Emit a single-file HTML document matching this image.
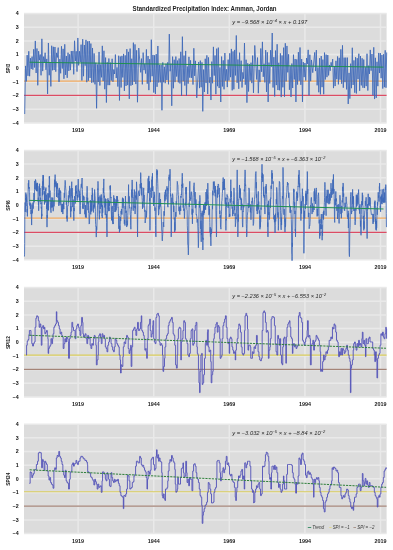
<!DOCTYPE html><html><head><meta charset="utf-8"><style>html,body{margin:0;padding:0;background:#fff;overflow:hidden}svg{display:block;will-change:transform}</style></head><body><svg width="393" height="550" viewBox="0 0 393 550" font-family="Liberation Sans, sans-serif">
<rect width="393" height="550" fill="#fff"/>
<text x="204.6" y="10.7" font-size="6.3" font-weight="bold" text-anchor="middle" textLength="144" lengthAdjust="spacingAndGlyphs" fill="#222">Standardized Precipitation Index: Amman, Jordan</text>
<g>
<rect x="24.0" y="13.40" width="362.60" height="109.40" fill="#dcdcdc"/>
<line x1="24.0" x2="386.6" y1="122.95" y2="122.95" stroke="#e9e9e9" stroke-width="1.5"/>
<text x="18.6" y="124.70" font-size="5.3" font-weight="bold" text-anchor="end" fill="#111">−4</text>
<line x1="24.0" x2="386.6" y1="109.28" y2="109.28" stroke="#e9e9e9" stroke-width="1.5"/>
<text x="18.6" y="111.03" font-size="5.3" font-weight="bold" text-anchor="end" fill="#111">−3</text>
<line x1="24.0" x2="386.6" y1="95.60" y2="95.60" stroke="#e9e9e9" stroke-width="1.5"/>
<text x="18.6" y="97.35" font-size="5.3" font-weight="bold" text-anchor="end" fill="#111">−2</text>
<line x1="24.0" x2="386.6" y1="81.93" y2="81.93" stroke="#e9e9e9" stroke-width="1.5"/>
<text x="18.6" y="83.68" font-size="5.3" font-weight="bold" text-anchor="end" fill="#111">−1</text>
<line x1="24.0" x2="386.6" y1="68.25" y2="68.25" stroke="#e9e9e9" stroke-width="1.5"/>
<text x="18.6" y="70.00" font-size="5.3" font-weight="bold" text-anchor="end" fill="#111">0</text>
<line x1="24.0" x2="386.6" y1="54.58" y2="54.58" stroke="#e9e9e9" stroke-width="1.5"/>
<text x="18.6" y="56.33" font-size="5.3" font-weight="bold" text-anchor="end" fill="#111">1</text>
<line x1="24.0" x2="386.6" y1="40.90" y2="40.90" stroke="#e9e9e9" stroke-width="1.5"/>
<text x="18.6" y="42.65" font-size="5.3" font-weight="bold" text-anchor="end" fill="#111">2</text>
<line x1="24.0" x2="386.6" y1="27.23" y2="27.23" stroke="#e9e9e9" stroke-width="1.5"/>
<text x="18.6" y="28.98" font-size="5.3" font-weight="bold" text-anchor="end" fill="#111">3</text>
<line x1="24.0" x2="386.6" y1="13.55" y2="13.55" stroke="#e9e9e9" stroke-width="1.5"/>
<text x="18.6" y="15.30" font-size="5.3" font-weight="bold" text-anchor="end" fill="#111">4</text>
<line x1="78.10" x2="78.10" y1="13.40" y2="122.80" stroke="#e9e9e9" stroke-width="1.5"/>
<text x="78.10" y="132.40" font-size="5.4" font-weight="bold" text-anchor="middle" fill="#222">1919</text>
<line x1="153.70" x2="153.70" y1="13.40" y2="122.80" stroke="#e9e9e9" stroke-width="1.5"/>
<text x="153.70" y="132.40" font-size="5.4" font-weight="bold" text-anchor="middle" fill="#222">1944</text>
<line x1="229.30" x2="229.30" y1="13.40" y2="122.80" stroke="#e9e9e9" stroke-width="1.5"/>
<text x="229.30" y="132.40" font-size="5.4" font-weight="bold" text-anchor="middle" fill="#222">1969</text>
<line x1="304.90" x2="304.90" y1="13.40" y2="122.80" stroke="#e9e9e9" stroke-width="1.5"/>
<text x="304.90" y="132.40" font-size="5.4" font-weight="bold" text-anchor="middle" fill="#222">1994</text>
<line x1="380.50" x2="380.50" y1="13.40" y2="122.80" stroke="#e9e9e9" stroke-width="1.5"/>
<text x="380.50" y="132.40" font-size="5.4" font-weight="bold" text-anchor="middle" fill="#222">2019</text>
<text transform="translate(9.8,68.60) rotate(-90)" font-size="5.6" font-weight="bold" text-anchor="middle" textLength="9.5" lengthAdjust="spacingAndGlyphs" fill="#222">SPI3</text>
<line x1="24.0" x2="386.6" y1="81.18" y2="81.18" stroke="#f0aa60" stroke-width="1.2"/>
<line x1="24.0" x2="386.6" y1="95.45" y2="95.45" stroke="#dc4c64" stroke-width="1.2"/>
<path d="M24.70,114.02 L25.51,65.92 L26.33,81.45 L27.15,55.11 L27.97,75.82 L28.78,51.27 L29.60,76.19 L30.42,58.17 L31.24,69.01 L32.05,56.64 L32.87,69.63 L33.69,49.27 L34.51,67.48 L35.32,40.93 L36.14,72.98 L36.96,48.51 L37.78,85.30 L38.59,51.21 L39.41,60.13 L40.23,54.50 L41.05,75.32 L41.86,38.84 L42.68,71.09 L43.50,56.67 L44.32,62.71 L45.13,52.75 L45.95,69.77 L46.77,58.90 L47.59,93.93 L48.40,42.99 L49.22,75.24 L50.04,62.94 L50.86,86.40 L51.67,45.76 L52.49,70.25 L53.31,46.79 L54.13,69.97 L54.94,46.99 L55.76,71.66 L56.58,52.85 L57.40,57.45 L58.21,47.64 L59.03,81.95 L59.85,59.13 L60.66,73.30 L61.48,46.26 L62.30,68.58 L63.12,48.85 L63.93,78.81 L64.75,44.32 L65.57,74.87 L66.39,56.03 L67.20,77.83 L68.02,52.68 L68.84,70.91 L69.66,54.28 L70.47,70.12 L71.29,51.05 L72.11,63.64 L72.93,50.97 L73.74,74.34 L74.56,40.77 L75.38,61.05 L76.20,51.25 L77.01,71.64 L77.83,37.96 L78.65,65.36 L79.47,51.23 L80.28,61.95 L81.09,44.66 L81.88,80.48 L82.70,39.18 L83.51,76.20 L84.33,44.98 L85.15,65.63 L85.97,39.89 L86.78,82.20 L87.60,41.42 L88.42,80.73 L89.24,41.02 L90.05,77.95 L90.87,43.57 L91.69,82.76 L92.51,47.98 L93.32,82.36 L94.14,53.44 L94.96,84.34 L95.78,62.72 L96.59,108.31 L97.41,64.46 L98.23,81.98 L99.05,51.94 L99.86,85.51 L100.68,64.44 L101.50,77.32 L102.32,45.87 L103.13,81.14 L103.95,50.77 L104.77,89.19 L105.59,57.60 L106.40,102.56 L107.22,62.32 L108.04,85.15 L108.86,58.50 L109.67,85.13 L110.49,62.65 L111.31,80.52 L112.13,58.79 L112.94,81.79 L113.76,69.55 L114.58,73.99 L115.40,54.58 L116.21,78.05 L117.03,67.44 L117.85,86.56 L118.66,55.76 L119.48,100.47 L120.30,56.52 L121.12,87.53 L121.93,55.89 L122.75,77.41 L123.57,53.91 L124.39,90.88 L125.20,55.41 L126.02,85.93 L126.84,49.15 L127.66,85.10 L128.47,51.88 L129.29,98.85 L130.11,48.57 L130.93,85.63 L131.74,58.72 L132.56,84.92 L133.38,42.66 L134.20,81.71 L135.01,44.39 L135.83,84.08 L136.65,50.30 L137.47,102.22 L138.76,48.02 L140.70,72.37 L141.51,58.64 L142.33,84.37 L143.15,52.60 L143.97,70.11 L144.78,64.00 L145.60,73.53 L146.42,49.41 L147.24,83.67 L148.05,56.02 L148.87,90.14 L149.69,59.16 L150.51,82.13 L151.32,39.68 L152.14,76.20 L152.96,54.94 L153.78,92.54 L154.59,55.32 L155.41,93.88 L156.23,54.14 L157.05,86.80 L157.86,45.99 L158.68,82.50 L159.50,64.93 L160.32,82.40 L161.13,64.96 L161.95,110.27 L162.77,62.45 L163.59,82.26 L164.40,66.82 L165.22,83.19 L166.04,63.75 L166.86,80.04 L167.67,62.39 L168.49,84.30 L169.31,34.08 L170.13,71.24 L170.94,63.73 L171.76,105.80 L172.58,56.62 L173.40,88.28 L174.21,59.73 L175.03,82.18 L175.85,56.58 L176.66,76.54 L177.48,60.59 L178.30,82.39 L179.12,58.50 L179.93,83.44 L180.75,51.80 L181.57,95.96 L182.39,36.67 L183.20,81.27 L184.02,55.62 L184.84,85.53 L185.66,50.93 L186.47,95.57 L187.29,66.47 L188.11,83.63 L188.93,56.84 L189.74,77.63 L190.56,60.33 L191.38,77.95 L192.20,64.08 L193.01,84.57 L193.83,48.25 L194.65,75.89 L195.47,60.89 L196.76,97.87 L198.70,61.98 L199.51,88.12 L200.33,60.64 L201.15,87.19 L201.97,62.39 L202.78,111.35 L203.60,69.60 L204.42,92.01 L205.24,58.78 L206.05,83.02 L206.87,55.39 L207.69,93.99 L208.51,57.43 L209.32,82.79 L210.14,77.17 L210.96,100.02 L211.78,61.63 L212.59,83.26 L213.41,46.87 L214.23,75.59 L215.05,55.50 L215.86,94.17 L216.68,48.68 L217.50,86.20 L218.32,47.64 L219.13,87.98 L219.95,67.45 L220.77,102.01 L221.59,56.57 L222.40,86.51 L223.22,60.39 L224.04,89.33 L224.86,53.04 L225.67,80.71 L226.49,69.37 L227.31,87.08 L228.13,59.65 L228.94,80.54 L229.76,53.27 L230.58,77.16 L231.40,48.93 L232.21,90.35 L233.03,51.43 L233.85,89.28 L234.66,49.91 L235.48,75.45 L236.30,35.47 L237.12,82.84 L237.93,59.51 L238.75,88.80 L239.57,52.66 L240.39,81.33 L241.20,60.66 L242.02,87.50 L242.84,72.36 L243.66,78.76 L244.47,43.02 L245.29,84.68 L246.11,59.71 L246.93,102.65 L247.74,63.24 L248.56,91.53 L249.38,63.99 L250.20,80.50 L251.01,62.68 L251.83,83.14 L252.65,55.59 L253.47,92.90 L254.76,45.47 L256.70,79.45 L257.51,57.58 L258.33,93.19 L259.15,69.93 L259.97,82.13 L260.78,48.51 L261.60,71.80 L262.42,41.86 L263.24,76.80 L264.05,63.79 L264.87,82.40 L265.69,50.11 L266.51,91.95 L267.32,52.27 L268.14,101.93 L268.96,62.62 L269.78,83.45 L270.59,50.22 L271.41,66.67 L272.23,33.01 L273.05,87.50 L273.86,57.21 L274.68,96.48 L275.50,50.57 L276.32,85.10 L277.13,44.25 L277.95,90.07 L278.77,62.81 L279.59,90.29 L280.40,53.35 L281.22,97.08 L282.04,55.46 L282.86,87.32 L283.67,47.65 L284.49,96.74 L285.31,43.27 L286.13,81.41 L286.94,45.91 L287.76,72.35 L288.58,54.30 L289.40,89.80 L290.21,66.22 L291.03,96.99 L291.85,63.55 L292.66,88.02 L293.48,54.71 L294.30,79.45 L295.12,59.01 L295.93,101.95 L296.75,59.44 L297.57,84.59 L298.39,52.18 L299.20,80.74 L300.02,47.49 L300.84,84.82 L301.66,59.10 L302.47,101.93 L303.29,62.08 L304.11,77.11 L304.93,63.06 L305.74,80.59 L306.56,58.02 L307.38,63.97 L308.20,49.85 L309.01,95.47 L309.83,54.76 L310.65,81.18 L311.47,59.93 L312.76,72.68 L314.70,52.42 L315.51,71.07 L316.33,50.10 L317.15,85.32 L317.97,67.42 L318.78,92.24 L319.60,58.23 L320.42,94.33 L321.24,56.05 L322.05,87.16 L322.87,59.61 L323.69,94.21 L324.51,52.60 L325.32,79.47 L326.14,54.64 L326.96,77.15 L327.78,55.05 L328.59,75.41 L329.41,64.96 L330.23,70.73 L331.05,62.33 L331.86,66.64 L332.68,59.11 L333.50,88.11 L334.32,66.75 L335.13,86.06 L335.95,60.83 L336.77,79.20 L337.59,56.45 L338.40,84.38 L339.22,57.83 L340.04,79.68 L340.86,49.35 L341.67,83.72 L342.49,45.35 L343.31,87.71 L344.13,57.65 L344.94,82.22 L345.76,57.62 L346.58,89.38 L347.40,57.64 L348.21,103.95 L349.03,72.91 L349.85,98.63 L350.66,63.68 L351.48,88.18 L352.30,47.75 L353.12,84.93 L353.93,60.41 L354.75,92.68 L355.57,57.21 L356.39,93.49 L357.20,58.18 L358.02,79.08 L358.84,53.73 L359.66,90.84 L360.47,56.05 L361.29,85.40 L362.11,58.27 L362.93,87.74 L363.74,59.55 L364.56,88.02 L365.38,67.28 L366.20,86.13 L367.01,53.74 L367.83,90.56 L368.65,65.65 L369.47,73.93 L370.28,49.91 L371.10,70.67 L371.98,54.01 L372.94,95.24 L373.76,47.33 L374.58,99.05 L375.40,57.83 L376.21,97.91 L377.03,61.79 L377.85,86.16 L378.66,52.95 L379.48,73.04 L380.30,53.06 L381.12,78.20 L381.93,54.94 L382.75,88.56 L383.57,54.28 L384.39,87.16 L385.20,50.32 L385.97,87.73 L386.67,52.44" fill="none" stroke="#3d68b8" stroke-width="0.85" stroke-linejoin="round"/>
<line x1="29.6" x2="383.5" y1="62.22" y2="67.14" stroke="#1f9050" stroke-width="1"/>
<text x="232.3" y="24.00" font-size="4.6" font-style="italic" textLength="75" lengthAdjust="spacingAndGlyphs" fill="#262626">y = −9.568 × 10<tspan dy="-2" font-size="3.2">−4</tspan><tspan dy="2"> × x + 0.197</tspan></text>
</g>
<g>
<rect x="24.0" y="150.30" width="362.60" height="109.40" fill="#dcdcdc"/>
<line x1="24.0" x2="386.6" y1="259.85" y2="259.85" stroke="#e9e9e9" stroke-width="1.5"/>
<text x="18.6" y="261.60" font-size="5.3" font-weight="bold" text-anchor="end" fill="#111">−4</text>
<line x1="24.0" x2="386.6" y1="246.18" y2="246.18" stroke="#e9e9e9" stroke-width="1.5"/>
<text x="18.6" y="247.93" font-size="5.3" font-weight="bold" text-anchor="end" fill="#111">−3</text>
<line x1="24.0" x2="386.6" y1="232.50" y2="232.50" stroke="#e9e9e9" stroke-width="1.5"/>
<text x="18.6" y="234.25" font-size="5.3" font-weight="bold" text-anchor="end" fill="#111">−2</text>
<line x1="24.0" x2="386.6" y1="218.83" y2="218.83" stroke="#e9e9e9" stroke-width="1.5"/>
<text x="18.6" y="220.58" font-size="5.3" font-weight="bold" text-anchor="end" fill="#111">−1</text>
<line x1="24.0" x2="386.6" y1="205.15" y2="205.15" stroke="#e9e9e9" stroke-width="1.5"/>
<text x="18.6" y="206.90" font-size="5.3" font-weight="bold" text-anchor="end" fill="#111">0</text>
<line x1="24.0" x2="386.6" y1="191.47" y2="191.47" stroke="#e9e9e9" stroke-width="1.5"/>
<text x="18.6" y="193.22" font-size="5.3" font-weight="bold" text-anchor="end" fill="#111">1</text>
<line x1="24.0" x2="386.6" y1="177.80" y2="177.80" stroke="#e9e9e9" stroke-width="1.5"/>
<text x="18.6" y="179.55" font-size="5.3" font-weight="bold" text-anchor="end" fill="#111">2</text>
<line x1="24.0" x2="386.6" y1="164.12" y2="164.12" stroke="#e9e9e9" stroke-width="1.5"/>
<text x="18.6" y="165.88" font-size="5.3" font-weight="bold" text-anchor="end" fill="#111">3</text>
<line x1="24.0" x2="386.6" y1="150.45" y2="150.45" stroke="#e9e9e9" stroke-width="1.5"/>
<text x="18.6" y="152.20" font-size="5.3" font-weight="bold" text-anchor="end" fill="#111">4</text>
<line x1="78.10" x2="78.10" y1="150.30" y2="259.70" stroke="#e9e9e9" stroke-width="1.5"/>
<text x="78.10" y="269.30" font-size="5.4" font-weight="bold" text-anchor="middle" fill="#222">1919</text>
<line x1="153.70" x2="153.70" y1="150.30" y2="259.70" stroke="#e9e9e9" stroke-width="1.5"/>
<text x="153.70" y="269.30" font-size="5.4" font-weight="bold" text-anchor="middle" fill="#222">1944</text>
<line x1="229.30" x2="229.30" y1="150.30" y2="259.70" stroke="#e9e9e9" stroke-width="1.5"/>
<text x="229.30" y="269.30" font-size="5.4" font-weight="bold" text-anchor="middle" fill="#222">1969</text>
<line x1="304.90" x2="304.90" y1="150.30" y2="259.70" stroke="#e9e9e9" stroke-width="1.5"/>
<text x="304.90" y="269.30" font-size="5.4" font-weight="bold" text-anchor="middle" fill="#222">1994</text>
<line x1="380.50" x2="380.50" y1="150.30" y2="259.70" stroke="#e9e9e9" stroke-width="1.5"/>
<text x="380.50" y="269.30" font-size="5.4" font-weight="bold" text-anchor="middle" fill="#222">2019</text>
<text transform="translate(9.8,205.50) rotate(-90)" font-size="5.6" font-weight="bold" text-anchor="middle" textLength="10.6" lengthAdjust="spacingAndGlyphs" fill="#222">SPI6</text>
<line x1="24.0" x2="386.6" y1="218.08" y2="218.08" stroke="#f0aa60" stroke-width="1.2"/>
<line x1="24.0" x2="386.6" y1="232.35" y2="232.35" stroke="#dc4c64" stroke-width="1.2"/>
<path d="M24.45,256.55 L24.57,254.13 L24.70,243.36 L24.82,216.69 L24.94,214.05 L25.11,202.49 L25.27,211.91 L25.44,206.03 L25.60,197.70 L25.72,199.94 L25.84,192.61 L25.97,197.15 L26.09,194.43 L26.21,199.21 L26.34,201.61 L26.46,196.86 L26.58,205.87 L26.74,205.44 L26.91,205.59 L27.07,212.34 L27.23,209.14 L27.35,216.41 L27.48,213.96 L27.60,205.03 L27.72,202.60 L27.92,197.93 L28.13,191.07 L28.34,183.21 L28.54,187.89 L28.74,180.20 L28.95,188.89 L29.16,187.07 L29.36,191.16 L29.56,192.68 L29.77,205.57 L29.97,202.66 L30.17,205.87 L30.38,209.00 L30.58,205.21 L30.79,203.43 L30.99,214.05 L31.11,212.13 L31.23,209.96 L31.36,217.91 L31.48,218.95 L31.64,225.07 L31.81,216.37 L31.98,204.64 L32.14,207.51 L32.34,213.37 L32.55,210.40 L32.75,208.05 L32.95,202.60 L33.16,208.69 L33.36,204.88 L33.57,204.14 L33.77,197.70 L33.98,193.02 L34.18,202.27 L34.39,199.88 L34.59,189.52 L34.80,180.97 L35.00,189.19 L35.20,186.04 L35.41,179.71 L35.53,179.43 L35.66,181.08 L35.78,180.76 L35.90,181.35 L36.10,190.22 L36.30,183.82 L36.51,190.99 L36.71,186.25 L36.91,182.80 L37.12,191.51 L37.33,190.99 L37.53,182.98 L37.73,185.96 L37.94,191.56 L38.15,201.59 L38.35,197.70 L38.43,205.00 L38.52,204.00 L38.60,202.50 L38.68,210.78 L38.80,201.49 L38.92,202.11 L39.05,186.37 L39.17,186.25 L39.37,194.41 L39.58,183.71 L39.78,196.11 L39.98,189.52 L40.10,188.14 L40.22,201.84 L40.35,199.37 L40.47,197.70 L40.63,199.00 L40.80,200.47 L40.97,204.10 L41.13,202.60 L41.25,208.27 L41.38,207.39 L41.50,209.60 L41.62,218.95 L41.74,213.85 L41.86,216.14 L41.99,205.23 L42.11,197.70 L42.27,185.97 L42.44,195.29 L42.60,189.50 L42.76,181.35 L42.88,188.28 L43.00,174.98 L43.13,184.53 L43.25,179.71 L43.45,175.45 L43.66,189.82 L43.87,186.67 L44.07,194.43 L44.27,191.14 L44.48,204.46 L44.69,192.25 L44.89,200.97 L45.09,198.92 L45.30,202.44 L45.51,189.02 L45.71,191.16 L45.91,187.58 L46.12,201.28 L46.32,194.68 L46.52,197.70 L46.64,208.96 L46.77,203.99 L46.89,217.29 L47.01,227.13 L47.17,215.09 L47.34,217.97 L47.51,201.22 L47.67,202.60 L47.79,210.37 L47.91,193.24 L48.04,205.51 L48.16,200.97 L48.28,193.58 L48.41,199.02 L48.53,210.29 L48.65,205.87 L48.81,192.34 L48.97,185.46 L49.14,187.24 L49.30,176.44 L49.42,178.47 L49.55,176.39 L49.67,197.52 L49.79,192.79 L49.99,190.60 L50.20,192.62 L50.41,202.25 L50.61,209.14 L50.81,210.81 L51.02,212.69 L51.23,200.95 L51.43,207.51 L51.63,203.76 L51.84,197.43 L52.05,204.13 L52.25,204.24 L52.37,207.39 L52.50,205.29 L52.62,206.57 L52.74,197.70 L52.90,205.57 L53.06,210.76 L53.23,211.21 L53.39,210.78 L53.59,207.84 L53.80,200.93 L54.01,206.32 L54.21,200.97 L54.33,192.35 L54.45,183.18 L54.58,184.09 L54.70,179.71 L54.90,187.27 L55.11,174.64 L55.31,183.69 L55.51,182.98 L55.71,182.69 L55.92,186.52 L56.12,181.47 L56.33,189.52 L56.53,196.98 L56.74,183.55 L56.95,188.98 L57.15,186.25 L57.35,187.67 L57.56,183.30 L57.77,195.88 L57.97,197.70 L58.17,193.27 L58.38,193.81 L58.58,195.43 L58.78,205.87 L58.91,195.28 L59.03,189.61 L59.16,194.82 L59.28,187.89 L59.44,190.49 L59.61,201.50 L59.77,203.06 L59.93,197.70 L60.09,205.37 L60.25,190.43 L60.42,193.02 L60.58,192.79 L60.74,191.57 L60.91,200.97 L61.08,204.83 L61.24,205.87 L61.44,212.09 L61.64,211.28 L61.85,203.94 L62.05,209.14 L62.25,208.98 L62.46,212.07 L62.66,203.91 L62.87,214.05 L63.07,204.05 L63.28,209.14 L63.48,202.15 L63.69,207.51 L63.89,209.09 L64.10,197.94 L64.31,192.95 L64.51,197.70 L64.71,187.88 L64.91,184.69 L65.12,180.35 L65.32,181.35 L65.52,185.81 L65.73,188.88 L65.94,190.19 L66.14,197.70 L66.34,204.75 L66.55,201.51 L66.75,218.50 L66.96,215.68 L67.16,221.56 L67.37,214.90 L67.58,207.13 L67.78,205.87 L67.98,205.26 L68.19,205.69 L68.39,195.34 L68.59,202.60 L68.80,199.08 L69.00,198.97 L69.20,190.73 L69.41,194.43 L69.61,185.89 L69.82,197.42 L70.03,188.34 L70.23,189.52 L70.35,196.82 L70.47,211.01 L70.60,212.36 L70.72,217.32 L70.92,206.17 L71.13,211.31 L71.34,192.95 L71.54,187.89 L71.74,181.69 L71.94,196.13 L72.15,188.07 L72.35,197.70 L72.52,195.84 L72.68,207.10 L72.84,205.71 L73.01,204.24 L73.22,199.61 L73.42,211.54 L73.62,214.89 L73.83,220.59 L73.95,216.66 L74.07,207.98 L74.20,211.15 L74.32,205.87 L74.52,196.16 L74.72,197.90 L74.93,197.45 L75.13,197.70 L75.33,203.49 L75.54,185.99 L75.75,196.15 L75.95,189.52 L76.16,185.21 L76.36,193.26 L76.56,191.25 L76.77,194.43 L76.97,194.59 L77.18,200.63 L77.39,194.99 L77.59,197.70 L77.79,187.21 L78.00,183.53 L78.20,179.11 L78.40,182.98 L78.61,191.33 L78.81,189.61 L79.02,197.39 L79.22,191.16 L79.42,200.35 L79.63,194.05 L79.84,211.19 L80.04,214.05 L80.25,212.91 L80.45,205.81 L80.66,195.62 L80.86,189.52 L81.13,184.50 L81.41,183.84 L81.69,187.54 L81.96,179.71 L82.08,178.00 L82.20,185.09 L82.33,186.66 L82.45,189.52 L82.57,201.38 L82.69,202.36 L82.82,208.34 L82.94,204.24 L83.10,209.06 L83.27,198.13 L83.44,195.73 L83.60,199.33 L83.80,199.95 L84.00,196.63 L84.21,200.48 L84.41,202.60 L84.61,207.87 L84.82,214.22 L85.03,210.28 L85.23,210.78 L85.44,217.32 L85.64,205.14 L85.84,210.64 L86.05,214.05 L86.25,217.69 L86.46,197.06 L86.67,196.61 L86.87,192.79 L87.07,186.22 L87.28,187.80 L87.48,203.59 L87.68,197.70 L87.89,210.17 L88.09,207.72 L88.30,202.05 L88.50,212.41 L88.70,211.61 L88.91,213.31 L89.11,224.07 L89.32,223.86 L89.52,223.03 L89.73,214.58 L89.94,212.03 L90.14,207.51 L90.34,200.12 L90.55,207.43 L90.75,214.38 L90.95,205.87 L91.16,211.70 L91.36,201.06 L91.56,209.85 L91.77,210.78 L91.89,208.93 L92.02,194.97 L92.14,200.72 L92.26,187.89 L92.38,189.64 L92.50,196.45 L92.63,193.52 L92.75,197.70 L92.91,210.29 L93.08,210.15 L93.25,210.05 L93.41,212.41 L93.61,204.79 L93.81,208.90 L94.02,200.26 L94.22,207.51 L94.34,205.14 L94.47,206.21 L94.59,189.50 L94.71,191.16 L94.83,193.80 L94.95,195.75 L95.08,196.81 L95.20,200.97 L95.37,211.30 L95.53,221.91 L95.69,224.29 L95.86,227.13 L96.06,227.45 L96.27,237.08 L96.48,226.54 L96.68,230.40 L96.88,228.69 L97.09,220.99 L97.29,216.71 L97.49,205.87 L97.61,206.08 L97.73,188.66 L97.86,189.66 L97.98,181.35 L98.10,183.69 L98.22,192.53 L98.35,202.20 L98.47,197.70 L98.63,204.21 L98.80,197.08 L98.97,209.32 L99.13,214.05 L99.25,217.04 L99.38,219.31 L99.50,214.30 L99.62,210.78 L99.83,213.20 L100.03,195.55 L100.23,208.95 L100.44,197.70 L100.64,201.01 L100.84,197.98 L101.05,202.54 L101.25,194.43 L101.45,206.67 L101.66,197.86 L101.86,216.05 L102.07,215.68 L102.27,218.03 L102.48,205.37 L102.69,212.72 L102.89,205.87 L103.09,201.29 L103.30,188.06 L103.50,192.96 L103.71,181.35 L103.83,178.92 L103.95,191.55 L104.08,192.43 L104.20,197.70 L104.36,195.72 L104.53,203.79 L104.69,204.47 L104.85,207.51 L105.05,201.79 L105.26,215.09 L105.47,198.59 L105.67,205.87 L105.88,198.97 L106.08,209.70 L106.28,218.07 L106.49,214.05 L106.61,222.62 L106.73,230.07 L106.86,230.94 L106.98,236.93 L107.10,233.54 L107.22,220.88 L107.35,213.12 L107.47,210.78 L107.63,209.20 L107.80,199.01 L107.96,198.31 L108.12,204.24 L108.33,209.63 L108.53,200.00 L108.73,211.20 L108.94,207.51 L109.14,210.99 L109.34,202.52 L109.55,205.75 L109.75,200.97 L109.88,203.28 L110.00,201.80 L110.12,185.81 L110.25,189.52 L110.37,185.49 L110.50,191.48 L110.62,195.02 L110.74,197.70 L110.90,198.09 L111.06,197.06 L111.23,211.00 L111.39,214.05 L111.59,220.41 L111.80,207.56 L112.00,208.60 L112.21,205.87 L112.33,207.02 L112.45,211.38 L112.58,222.35 L112.70,218.95 L112.82,216.73 L112.94,224.09 L113.07,222.34 L113.19,223.86 L113.35,217.60 L113.52,217.42 L113.68,195.39 L113.84,196.06 L114.05,204.76 L114.25,198.26 L114.45,207.28 L114.66,207.51 L114.86,212.02 L115.07,208.64 L115.28,203.13 L115.48,204.24 L115.68,211.60 L115.89,199.36 L116.09,210.31 L116.29,209.14 L116.41,203.91 L116.53,203.15 L116.66,205.65 L116.78,196.06 L116.98,202.65 L117.19,200.83 L117.39,196.29 L117.60,200.97 L117.80,199.84 L118.01,207.56 L118.22,207.18 L118.42,215.68 L118.62,214.13 L118.83,228.82 L119.03,216.05 L119.24,225.49 L119.44,232.45 L119.64,225.77 L119.85,226.74 L120.05,230.40 L120.25,224.27 L120.46,217.07 L120.67,221.05 L120.87,218.95 L121.08,210.90 L121.28,213.82 L121.48,209.08 L121.69,210.78 L121.89,214.61 L122.10,211.83 L122.31,199.93 L122.51,197.70 L122.71,201.44 L122.91,207.88 L123.12,198.25 L123.32,202.60 L123.52,199.48 L123.73,206.06 L123.94,209.27 L124.14,218.95 L124.34,223.80 L124.55,219.95 L124.75,221.26 L124.96,225.49 L125.08,223.44 L125.20,205.97 L125.33,208.97 L125.45,196.06 L125.61,202.13 L125.78,201.62 L125.94,212.92 L126.10,210.78 L126.30,210.80 L126.51,223.31 L126.72,227.03 L126.92,222.22 L127.12,220.63 L127.33,222.37 L127.53,225.39 L127.74,215.68 L127.94,212.28 L128.15,204.67 L128.35,199.03 L128.56,184.62 L128.68,195.73 L128.81,195.72 L128.93,203.05 L129.05,197.70 L129.25,196.40 L129.46,204.81 L129.66,208.13 L129.86,207.51 L130.06,209.62 L130.27,214.61 L130.48,215.14 L130.68,225.49 L130.88,229.23 L131.09,213.87 L131.30,211.58 L131.50,207.51 L131.62,208.46 L131.75,189.60 L131.87,197.40 L131.99,182.98 L132.15,179.95 L132.31,181.84 L132.48,191.33 L132.64,197.70 L132.84,197.21 L133.05,209.30 L133.25,210.72 L133.46,205.87 L133.67,206.49 L133.87,196.55 L134.07,194.38 L134.28,189.52 L134.49,190.91 L134.69,207.79 L134.89,205.94 L135.10,214.05 L135.30,206.09 L135.50,208.36 L135.71,195.50 L135.91,197.70 L136.12,191.53 L136.32,199.65 L136.52,181.82 L136.73,186.25 L136.94,192.48 L137.14,206.27 L137.34,219.78 L137.55,236.93 L137.67,225.69 L137.80,212.82 L137.92,204.68 L138.04,197.70 L138.52,191.91 L139.00,190.57 L139.48,196.01 L139.96,192.79 L140.08,186.58 L140.20,183.96 L140.33,187.80 L140.45,179.71 L140.66,172.64 L140.86,174.94 L141.06,188.48 L141.27,182.98 L141.48,185.40 L141.68,195.36 L141.88,187.41 L142.09,197.70 L142.29,200.57 L142.50,208.82 L142.70,202.14 L142.90,207.51 L143.11,207.43 L143.31,199.69 L143.51,190.90 L143.72,187.89 L143.93,201.34 L144.13,194.94 L144.33,200.90 L144.54,205.87 L144.75,211.70 L144.95,209.93 L145.16,222.99 L145.36,220.59 L145.56,219.89 L145.76,217.27 L145.97,213.93 L146.17,210.78 L146.38,217.46 L146.58,215.49 L146.78,210.78 L146.99,202.60 L147.19,198.10 L147.40,193.66 L147.61,192.01 L147.81,187.89 L148.01,178.49 L148.22,178.38 L148.43,193.12 L148.63,182.98 L148.83,175.88 L149.03,190.04 L149.24,184.99 L149.44,181.35 L149.56,201.08 L149.69,198.27 L149.81,214.64 L149.93,230.40 L150.09,225.54 L150.26,201.12 L150.43,192.65 L150.59,189.52 L150.80,188.88 L151.00,187.73 L151.20,189.30 L151.41,197.70 L151.61,195.44 L151.81,179.72 L152.02,190.24 L152.22,176.44 L152.34,181.58 L152.47,173.24 L152.59,190.97 L152.71,186.25 L152.92,186.50 L153.12,195.73 L153.32,202.02 L153.53,205.87 L153.74,197.32 L153.94,201.82 L154.14,191.83 L154.35,197.70 L154.56,194.75 L154.76,210.14 L154.96,210.85 L155.17,207.51 L155.37,215.28 L155.57,225.49 L155.78,236.33 L155.98,236.93 L156.10,215.74 L156.22,207.36 L156.35,186.16 L156.47,178.08 L156.63,170.36 L156.80,169.39 L156.97,170.44 L157.13,174.81 L157.33,170.44 L157.54,177.04 L157.75,183.67 L157.95,189.52 L158.15,197.86 L158.35,208.24 L158.56,215.19 L158.76,214.05 L158.88,213.88 L159.00,206.00 L159.13,209.29 L159.25,197.70 L159.45,192.86 L159.66,193.05 L159.87,207.10 L160.07,202.60 L160.27,205.71 L160.48,199.02 L160.69,202.84 L160.89,205.87 L161.09,208.36 L161.30,216.89 L161.50,222.97 L161.71,230.40 L161.91,230.20 L162.12,239.02 L162.32,240.90 L162.52,236.93 L162.73,234.38 L162.93,229.09 L163.13,222.02 L163.34,222.22 L163.55,224.95 L163.75,226.90 L163.95,211.22 L164.16,214.05 L164.28,215.66 L164.41,213.54 L164.53,210.76 L164.65,205.87 L164.81,194.56 L164.98,201.08 L165.14,191.93 L165.30,194.43 L165.50,189.75 L165.71,197.50 L165.92,199.49 L166.12,197.70 L166.32,197.10 L166.53,196.33 L166.74,192.76 L166.94,186.25 L167.14,190.71 L167.34,187.92 L167.55,205.87 L167.75,205.87 L167.95,207.19 L168.16,202.92 L168.37,194.15 L168.57,187.89 L168.77,177.53 L168.98,178.33 L169.19,174.71 L169.39,179.71 L169.59,180.52 L169.80,177.24 L170.00,169.16 L170.21,173.17 L170.33,186.69 L170.45,192.40 L170.58,196.30 L170.70,194.43 L170.82,204.40 L170.94,211.93 L171.07,221.06 L171.19,236.93 L171.35,232.96 L171.51,220.93 L171.68,203.50 L171.84,197.70 L172.05,204.13 L172.25,197.31 L172.45,193.68 L172.66,194.43 L172.87,195.77 L173.07,204.12 L173.27,202.21 L173.48,205.87 L173.68,212.01 L173.88,205.61 L174.09,219.32 L174.29,218.95 L174.50,217.71 L174.70,232.06 L174.91,222.40 L175.11,230.40 L175.23,223.31 L175.36,222.91 L175.48,216.20 L175.60,214.05 L175.81,212.06 L176.01,216.77 L176.21,201.31 L176.42,204.24 L176.62,203.42 L176.83,196.27 L177.03,192.22 L177.24,181.35 L177.44,182.45 L177.65,184.62 L177.85,184.70 L178.05,189.52 L178.25,194.35 L178.46,195.73 L178.67,199.90 L178.87,210.78 L179.07,211.17 L179.28,206.87 L179.49,212.68 L179.69,214.05 L179.89,214.55 L180.10,208.99 L180.31,205.67 L180.51,210.78 L180.63,209.40 L180.75,210.72 L180.88,195.97 L181.00,197.70 L181.16,196.51 L181.32,194.02 L181.49,194.82 L181.65,184.62 L181.86,185.85 L182.06,177.07 L182.26,173.22 L182.47,176.44 L182.59,187.82 L182.72,183.46 L182.84,183.61 L182.96,197.70 L183.17,207.64 L183.37,198.80 L183.57,204.15 L183.78,210.78 L183.98,208.75 L184.19,208.84 L184.39,218.49 L184.59,215.68 L184.80,209.58 L185.00,208.07 L185.20,204.42 L185.41,202.60 L185.62,205.33 L185.82,187.39 L186.02,194.23 L186.23,189.52 L186.35,186.98 L186.47,191.40 L186.60,203.71 L186.72,205.87 L186.93,209.77 L187.13,210.30 L187.33,225.85 L187.54,230.40 L187.74,243.99 L187.94,245.27 L188.15,248.71 L188.35,254.92 L188.51,250.12 L188.68,241.97 L188.84,217.99 L189.01,214.05 L189.17,202.67 L189.33,206.88 L189.50,198.41 L189.66,182.98 L189.82,181.31 L189.99,194.01 L190.16,200.76 L190.32,197.70 L190.52,198.12 L190.72,198.89 L190.93,194.45 L191.13,192.79 L191.33,191.69 L191.54,194.99 L191.75,195.94 L191.95,207.51 L192.07,214.58 L192.19,209.18 L192.32,221.96 L192.44,223.86 L192.60,215.36 L192.77,209.63 L192.94,212.71 L193.10,197.70 L193.30,192.48 L193.50,190.71 L193.71,185.73 L193.91,184.62 L194.12,182.76 L194.32,186.19 L194.52,195.02 L194.73,197.70 L194.94,204.23 L195.14,191.96 L195.34,208.17 L195.55,200.97 L195.75,207.38 L195.96,199.48 L196.17,214.51 L196.37,214.05 L196.77,216.36 L197.17,222.49 L197.56,219.13 L197.96,230.40 L198.08,234.67 L198.20,238.93 L198.33,247.74 L198.45,246.74 L198.57,240.02 L198.69,234.08 L198.82,226.44 L198.94,214.05 L199.10,206.99 L199.27,201.41 L199.44,207.53 L199.60,205.87 L199.72,197.16 L199.84,195.34 L199.97,196.53 L200.09,197.70 L200.21,202.47 L200.34,207.96 L200.46,212.60 L200.58,214.05 L200.74,228.97 L200.91,220.78 L201.07,235.94 L201.23,241.84 L201.35,229.49 L201.47,235.09 L201.60,226.00 L201.72,222.22 L201.84,212.88 L201.97,213.09 L202.09,216.53 L202.21,210.78 L202.38,220.11 L202.54,238.39 L202.71,237.60 L202.87,250.01 L202.99,238.14 L203.12,239.64 L203.24,224.95 L203.36,214.05 L203.56,204.93 L203.76,215.08 L203.97,205.46 L204.17,205.87 L204.38,213.11 L204.58,206.68 L204.78,208.91 L204.99,202.60 L205.19,209.32 L205.40,201.95 L205.61,209.79 L205.81,200.97 L206.01,192.02 L206.22,197.28 L206.43,205.82 L206.63,199.33 L206.83,189.25 L207.03,199.98 L207.24,204.64 L207.44,194.43 L207.56,197.08 L207.69,198.49 L207.81,183.13 L207.93,189.52 L208.09,194.33 L208.26,199.67 L208.43,200.62 L208.59,205.87 L208.80,206.46 L209.00,215.19 L209.20,205.93 L209.41,214.05 L209.61,209.13 L209.81,222.27 L210.02,232.26 L210.22,227.13 L210.34,236.29 L210.47,236.78 L210.59,233.24 L210.71,240.20 L210.92,245.84 L211.12,228.65 L211.32,230.73 L211.53,233.66 L211.74,231.90 L211.94,226.87 L212.14,211.07 L212.35,205.87 L212.56,209.15 L212.76,190.69 L212.96,195.35 L213.17,189.52 L213.37,181.74 L213.57,184.72 L213.78,183.94 L213.98,189.52 L214.19,181.45 L214.39,189.45 L214.59,191.98 L214.80,192.79 L215.00,189.26 L215.21,196.34 L215.42,185.96 L215.62,194.43 L215.82,205.37 L216.03,216.18 L216.24,224.56 L216.44,236.93 L216.56,234.59 L216.69,210.59 L216.81,206.19 L216.93,197.70 L217.09,194.11 L217.25,189.69 L217.42,197.64 L217.58,186.25 L217.79,187.14 L217.99,185.73 L218.19,183.95 L218.40,184.62 L218.61,184.31 L218.81,194.37 L219.01,192.46 L219.22,187.89 L219.34,197.09 L219.47,194.89 L219.59,209.21 L219.71,214.05 L219.91,210.62 L220.12,217.91 L220.32,215.27 L220.52,227.13 L220.73,227.55 L220.93,229.18 L221.13,219.80 L221.34,214.05 L221.55,211.22 L221.75,201.38 L221.95,200.75 L222.16,197.70 L222.37,193.38 L222.57,188.95 L222.77,182.51 L222.98,182.98 L223.18,177.52 L223.38,186.68 L223.59,189.90 L223.79,181.35 L224.00,189.18 L224.20,187.62 L224.41,178.98 L224.61,189.52 L224.81,188.01 L225.02,199.73 L225.23,204.16 L225.43,197.70 L225.55,206.74 L225.68,215.29 L225.80,225.58 L225.92,230.40 L226.08,218.90 L226.25,220.32 L226.41,207.12 L226.57,202.60 L226.69,206.80 L226.81,197.83 L226.94,199.41 L227.06,194.43 L227.26,196.26 L227.47,196.69 L227.68,196.18 L227.88,197.70 L228.08,207.88 L228.29,206.37 L228.50,202.38 L228.70,205.87 L228.90,208.01 L229.10,217.12 L229.31,216.45 L229.51,214.05 L229.72,213.94 L229.92,216.58 L230.12,198.57 L230.33,202.60 L230.45,198.64 L230.57,193.39 L230.70,184.62 L230.82,179.71 L230.98,192.55 L231.15,197.12 L231.31,191.23 L231.48,197.70 L231.68,202.25 L231.88,207.39 L232.09,208.59 L232.29,207.51 L232.50,206.67 L232.70,216.15 L232.91,209.69 L233.11,214.05 L233.31,201.15 L233.52,203.93 L233.73,197.12 L233.93,187.89 L234.13,190.74 L234.34,196.86 L234.55,210.16 L234.75,205.87 L234.95,215.91 L235.16,213.19 L235.36,226.77 L235.56,223.86 L235.76,222.67 L235.97,217.24 L236.18,219.15 L236.38,214.05 L236.58,208.12 L236.79,199.11 L237.00,184.00 L237.20,169.90 L237.36,189.67 L237.52,201.63 L237.69,211.90 L237.85,236.93 L238.01,228.35 L238.18,214.46 L238.34,221.60 L238.51,205.87 L238.71,199.31 L238.91,199.59 L239.12,197.80 L239.32,189.52 L239.52,184.96 L239.73,197.98 L239.94,190.06 L240.14,194.43 L240.34,188.51 L240.55,199.50 L240.75,197.58 L240.96,200.97 L241.17,210.15 L241.37,203.24 L241.57,198.58 L241.78,207.51 L241.98,203.75 L242.19,208.87 L242.39,222.11 L242.59,227.13 L242.80,226.90 L243.00,210.88 L243.20,211.80 L243.41,210.78 L243.62,205.08 L243.82,207.31 L244.02,203.31 L244.23,189.52 L244.44,191.37 L244.64,182.21 L244.84,176.16 L245.05,169.90 L245.25,171.86 L245.46,185.82 L245.66,184.74 L245.86,197.70 L246.06,203.97 L246.27,223.26 L246.48,228.35 L246.68,236.93 L246.88,235.28 L247.09,224.87 L247.30,215.80 L247.50,214.05 L247.70,212.07 L247.91,211.28 L248.12,203.27 L248.32,205.87 L248.52,208.00 L248.72,206.36 L248.93,187.87 L249.13,189.52 L249.33,189.38 L249.54,204.12 L249.75,207.01 L249.95,207.51 L250.16,204.19 L250.36,212.33 L250.56,207.70 L250.77,214.05 L250.98,219.76 L251.18,213.99 L251.38,211.79 L251.59,210.78 L251.79,201.42 L252.00,202.54 L252.20,200.48 L252.40,197.70 L252.61,202.16 L252.81,205.83 L253.01,213.11 L253.22,225.49 L253.43,224.19 L253.63,223.33 L253.83,216.97 L254.04,205.87 L254.52,199.36 L255.00,193.94 L255.48,173.53 L255.96,171.54 L256.08,172.86 L256.20,188.29 L256.33,182.19 L256.45,197.70 L256.65,194.30 L256.86,210.89 L257.06,204.51 L257.27,214.05 L257.47,204.29 L257.68,203.99 L257.88,207.85 L258.09,197.70 L258.29,191.34 L258.50,209.40 L258.70,201.54 L258.90,207.51 L259.11,212.06 L259.31,213.56 L259.51,210.51 L259.72,220.59 L259.93,229.25 L260.13,215.57 L260.34,227.30 L260.54,222.22 L260.75,222.09 L260.95,207.50 L261.16,209.66 L261.36,194.43 L261.48,180.84 L261.61,176.65 L261.73,176.97 L261.85,171.54 L262.01,164.29 L262.18,177.90 L262.34,173.24 L262.50,173.17 L262.70,181.82 L262.91,175.87 L263.12,174.47 L263.32,186.25 L263.52,196.14 L263.73,186.73 L263.94,193.34 L264.14,197.70 L264.34,195.05 L264.54,207.44 L264.75,209.31 L264.95,214.05 L265.15,201.67 L265.36,191.85 L265.56,190.28 L265.77,186.25 L265.97,193.40 L266.18,184.11 L266.38,187.50 L266.59,194.43 L266.79,199.02 L267.00,201.77 L267.21,207.27 L267.41,204.24 L267.53,215.02 L267.65,226.88 L267.78,222.55 L267.90,236.93 L268.02,236.76 L268.14,212.92 L268.27,206.78 L268.39,205.87 L268.55,200.78 L268.72,214.91 L268.88,212.09 L269.04,214.05 L269.25,219.59 L269.45,218.51 L269.66,216.06 L269.86,205.87 L270.06,205.88 L270.27,199.11 L270.48,207.97 L270.68,197.70 L270.88,198.62 L271.09,185.69 L271.29,188.85 L271.49,184.62 L271.69,173.12 L271.90,170.21 L272.11,178.53 L272.31,173.17 L272.51,179.16 L272.72,183.76 L272.93,183.86 L273.13,181.35 L273.25,182.99 L273.38,201.98 L273.50,214.54 L273.62,214.05 L273.82,219.28 L274.03,217.79 L274.24,216.49 L274.44,222.22 L274.64,215.18 L274.85,226.11 L275.05,232.98 L275.25,225.49 L275.45,213.65 L275.66,221.46 L275.87,217.93 L276.07,205.87 L276.27,199.12 L276.48,203.92 L276.69,187.41 L276.89,189.52 L277.09,192.06 L277.30,202.98 L277.50,214.75 L277.71,214.05 L277.91,217.55 L278.12,212.38 L278.32,230.37 L278.52,225.49 L278.72,215.74 L278.93,208.44 L279.13,187.52 L279.34,181.35 L279.54,182.46 L279.75,182.15 L279.96,187.97 L280.16,197.70 L280.37,203.92 L280.57,210.81 L280.78,222.59 L280.98,227.13 L281.18,229.86 L281.38,217.61 L281.59,224.98 L281.79,214.05 L282.00,212.72 L282.20,203.08 L282.41,196.11 L282.61,197.70 L282.73,198.55 L282.86,185.81 L282.98,167.40 L283.10,168.27 L283.26,180.99 L283.43,184.87 L283.59,195.05 L283.75,205.87 L283.95,214.74 L284.16,209.06 L284.37,213.96 L284.57,222.22 L284.77,224.17 L284.98,231.96 L285.19,218.45 L285.39,227.13 L285.59,225.79 L285.80,216.38 L286.00,199.25 L286.21,197.70 L286.41,197.75 L286.62,194.16 L286.82,192.89 L287.02,186.25 L287.22,186.51 L287.43,182.08 L287.63,185.07 L287.84,184.62 L288.04,183.17 L288.25,190.36 L288.46,192.74 L288.66,197.70 L288.87,192.66 L289.07,196.96 L289.28,201.03 L289.48,205.87 L289.68,204.77 L289.88,208.64 L290.09,212.76 L290.29,209.14 L290.50,206.03 L290.70,212.58 L290.91,209.90 L291.11,214.05 L291.31,219.35 L291.52,228.00 L291.73,252.98 L291.93,254.92 L292.05,260.66 L292.18,256.79 L292.30,242.87 L292.42,246.74 L292.62,230.24 L292.83,219.18 L293.04,212.50 L293.24,205.87 L293.44,200.45 L293.64,188.83 L293.85,192.21 L294.05,189.52 L294.25,199.06 L294.46,207.80 L294.67,202.34 L294.87,214.05 L295.03,210.80 L295.20,230.80 L295.37,229.05 L295.53,236.93 L295.69,226.22 L295.86,216.00 L296.02,210.70 L296.18,207.51 L296.34,199.62 L296.50,195.77 L296.67,191.66 L296.83,192.79 L297.03,194.33 L297.24,200.88 L297.44,193.03 L297.65,197.70 L297.86,190.47 L298.06,185.96 L298.26,186.69 L298.47,174.81 L298.68,180.01 L298.88,184.36 L299.09,170.15 L299.29,176.44 L299.49,187.25 L299.70,183.37 L299.90,193.76 L300.10,197.70 L300.31,203.91 L300.51,210.49 L300.72,211.66 L300.92,220.59 L301.12,207.98 L301.33,201.92 L301.54,213.57 L301.74,200.97 L301.94,206.29 L302.15,196.98 L302.36,188.68 L302.56,194.43 L302.76,201.33 L302.97,196.10 L303.17,196.35 L303.37,197.70 L303.49,214.10 L303.62,219.33 L303.74,234.32 L303.86,253.28 L303.98,249.14 L304.11,237.89 L304.23,232.57 L304.35,214.05 L304.51,210.81 L304.68,218.45 L304.85,214.92 L305.01,205.87 L305.21,203.96 L305.42,208.84 L305.62,193.67 L305.83,197.70 L306.03,190.78 L306.24,204.99 L306.44,193.70 L306.64,200.97 L306.81,193.89 L306.97,190.52 L307.13,182.13 L307.30,171.54 L307.46,175.08 L307.62,193.87 L307.79,189.05 L307.95,205.87 L308.15,209.03 L308.36,217.12 L308.56,212.84 L308.77,214.05 L308.97,213.36 L309.18,228.72 L309.38,226.71 L309.59,225.49 L309.79,225.83 L310.00,222.81 L310.20,218.60 L310.40,205.87 L310.61,205.16 L310.81,207.62 L311.01,199.78 L311.22,197.70 L311.43,197.38 L311.63,201.88 L311.84,205.67 L312.04,214.05 L312.52,203.46 L313.00,212.12 L313.48,206.12 L313.96,205.87 L314.08,209.99 L314.20,191.25 L314.33,201.15 L314.45,192.79 L314.65,188.53 L314.86,192.07 L315.06,192.74 L315.27,197.70 L315.47,203.89 L315.68,196.24 L315.88,190.98 L316.09,189.52 L316.29,187.92 L316.50,189.55 L316.70,199.40 L316.90,205.87 L317.11,216.45 L317.31,208.96 L317.51,215.16 L317.72,214.05 L317.93,215.58 L318.13,195.28 L318.34,194.88 L318.54,192.79 L318.66,196.63 L318.78,198.49 L318.91,206.63 L319.03,214.05 L319.19,223.45 L319.36,219.73 L319.52,235.94 L319.68,238.57 L319.88,232.05 L320.09,235.68 L320.30,224.12 L320.50,227.13 L320.70,229.07 L320.91,219.14 L321.12,223.30 L321.32,214.05 L321.52,229.00 L321.73,228.59 L321.94,225.05 L322.14,240.20 L322.34,231.25 L322.54,235.69 L322.75,223.32 L322.95,214.05 L323.15,217.89 L323.36,211.99 L323.56,219.53 L323.77,210.78 L323.97,214.84 L324.18,206.27 L324.38,202.58 L324.59,197.70 L324.71,187.29 L324.83,182.29 L324.96,182.59 L325.08,184.62 L325.28,195.13 L325.49,203.95 L325.69,209.10 L325.90,210.78 L326.10,215.70 L326.30,198.24 L326.51,196.16 L326.71,202.60 L326.91,196.15 L327.12,189.84 L327.32,198.02 L327.53,194.43 L327.74,202.98 L327.94,203.25 L328.14,189.80 L328.35,197.70 L328.56,201.88 L328.76,203.23 L328.97,204.21 L329.17,202.60 L329.37,198.97 L329.58,193.77 L329.78,203.42 L329.98,194.43 L330.19,200.47 L330.39,195.87 L330.60,191.53 L330.80,189.52 L331.00,183.16 L331.21,189.59 L331.42,190.97 L331.62,197.70 L331.82,191.02 L332.03,188.50 L332.24,194.59 L332.44,189.52 L332.64,190.72 L332.85,179.60 L333.05,190.63 L333.25,181.35 L333.45,174.40 L333.66,193.64 L333.87,188.97 L334.07,189.52 L334.19,199.90 L334.31,201.12 L334.44,216.27 L334.56,220.59 L334.73,222.46 L334.89,205.48 L335.06,199.25 L335.22,200.97 L335.42,205.33 L335.62,194.82 L335.83,191.42 L336.03,197.70 L336.24,200.82 L336.44,198.60 L336.64,202.35 L336.85,210.78 L337.06,207.70 L337.26,204.94 L337.47,218.97 L337.67,214.05 L337.88,213.18 L338.08,212.72 L338.29,204.17 L338.49,205.87 L338.69,213.69 L338.89,219.89 L339.10,223.45 L339.30,217.32 L339.50,204.18 L339.71,204.10 L339.92,195.22 L340.12,197.70 L340.32,201.33 L340.53,208.71 L340.74,211.91 L340.94,214.05 L341.14,209.39 L341.35,218.30 L341.55,210.14 L341.75,205.87 L341.95,212.77 L342.16,200.45 L342.37,202.35 L342.57,197.70 L342.69,186.81 L342.81,190.98 L342.94,189.30 L343.06,182.98 L343.26,183.89 L343.47,196.66 L343.68,193.53 L343.88,205.87 L344.08,206.40 L344.29,210.25 L344.50,209.19 L344.70,210.78 L344.90,203.28 L345.11,202.75 L345.31,204.85 L345.51,205.87 L345.71,207.38 L345.92,202.21 L346.12,196.81 L346.33,200.97 L346.53,201.32 L346.74,204.06 L346.94,204.26 L347.15,214.05 L347.36,216.88 L347.56,215.98 L347.76,214.58 L347.97,218.95 L348.17,210.80 L348.38,228.04 L348.58,213.22 L348.78,222.22 L348.90,223.47 L349.03,234.86 L349.15,251.95 L349.28,254.92 L349.44,256.65 L349.61,247.32 L349.77,231.24 L349.93,230.40 L350.13,227.51 L350.34,204.00 L350.55,196.44 L350.75,194.43 L350.95,192.35 L351.15,205.38 L351.36,210.83 L351.56,214.05 L351.76,211.02 L351.97,211.49 L352.18,202.65 L352.38,192.79 L352.50,198.41 L352.62,189.36 L352.75,203.86 L352.87,197.70 L353.07,207.28 L353.28,207.69 L353.49,196.28 L353.69,205.87 L353.89,210.95 L354.10,208.67 L354.31,210.22 L354.51,210.78 L354.71,209.46 L354.91,221.41 L355.12,224.88 L355.32,222.22 L355.52,221.76 L355.73,208.03 L355.94,210.53 L356.14,200.97 L356.34,194.75 L356.55,206.67 L356.75,196.19 L356.96,205.87 L357.16,194.94 L357.37,194.66 L357.57,202.49 L357.78,197.70 L357.98,204.36 L358.18,193.03 L358.39,194.16 L358.59,189.52 L358.79,195.16 L359.00,203.84 L359.21,210.24 L359.41,205.87 L359.62,213.64 L359.82,206.93 L360.03,204.30 L360.23,214.05 L360.44,226.44 L360.64,220.70 L360.85,234.64 L361.05,235.30 L361.17,234.51 L361.30,214.61 L361.42,207.72 L361.54,205.87 L361.74,201.21 L361.95,205.52 L362.15,202.39 L362.35,192.79 L362.51,204.93 L362.68,195.25 L362.85,204.81 L363.01,205.87 L363.21,218.72 L363.42,215.91 L363.62,225.83 L363.83,230.40 L364.03,221.35 L364.24,228.65 L364.44,217.11 L364.64,214.05 L364.84,210.53 L365.05,210.32 L365.25,200.98 L365.46,200.97 L365.66,205.78 L365.87,198.60 L366.07,197.25 L366.28,197.70 L366.49,211.98 L366.69,221.14 L366.89,232.13 L367.10,238.57 L367.22,236.74 L367.35,226.97 L367.47,211.16 L367.59,204.24 L367.79,206.01 L368.00,209.15 L368.20,193.79 L368.40,200.97 L368.61,205.06 L368.81,203.91 L369.01,202.90 L369.22,205.87 L369.43,196.97 L369.63,197.97 L369.84,204.24 L370.04,197.70 L370.71,208.71 L371.37,214.63 L372.03,214.54 L372.70,214.05 L372.90,222.94 L373.11,224.01 L373.31,214.14 L373.51,222.22 L373.71,221.97 L373.92,221.51 L374.12,215.72 L374.33,207.51 L374.53,201.85 L374.74,207.84 L374.94,200.62 L375.15,200.97 L375.27,205.48 L375.39,216.57 L375.52,221.31 L375.64,223.86 L375.80,218.94 L375.97,229.66 L376.13,220.84 L376.29,230.40 L376.46,221.04 L376.62,228.07 L376.78,225.57 L376.95,214.05 L377.11,207.58 L377.27,214.72 L377.44,202.20 L377.60,205.87 L377.81,203.79 L378.01,199.06 L378.22,192.25 L378.42,197.70 L378.62,195.68 L378.83,197.00 L379.04,201.57 L379.24,194.43 L379.36,186.46 L379.49,188.97 L379.61,183.05 L379.73,191.16 L379.89,189.59 L380.06,194.31 L380.22,207.95 L380.38,205.87 L380.58,211.72 L380.79,196.66 L381.00,199.42 L381.20,197.70 L381.36,197.31 L381.52,195.90 L381.69,203.51 L381.85,194.43 L382.01,204.17 L382.18,189.39 L382.35,197.68 L382.51,200.97 L382.71,200.66 L382.91,202.03 L383.12,199.06 L383.32,197.70 L383.52,202.65 L383.73,188.84 L383.94,194.55 L384.14,194.43 L384.34,202.42 L384.55,192.59 L384.75,194.68 L384.96,202.60 L385.16,200.20 L385.37,187.22 L385.57,189.93 L385.78,184.62 L385.94,188.49 L386.11,200.24 L386.27,213.52 L386.43,227.13" fill="none" stroke="#3d68b8" stroke-width="0.85" stroke-linejoin="round"/>
<line x1="29.1" x2="383.5" y1="200.35" y2="208.97" stroke="#1f9050" stroke-width="1"/>
<text x="232.3" y="160.90" font-size="4.6" font-style="italic" textLength="93" lengthAdjust="spacingAndGlyphs" fill="#262626">y = −1.568 × 10<tspan dy="-2" font-size="3.2">−5</tspan><tspan dy="2"> × x + −6.363 × 10</tspan><tspan dy="-2" font-size="3.2">−2</tspan></text>
</g>
<g>
<rect x="24.0" y="287.40" width="362.60" height="109.40" fill="#dcdcdc"/>
<line x1="24.0" x2="386.6" y1="396.95" y2="396.95" stroke="#e9e9e9" stroke-width="1.5"/>
<text x="18.6" y="398.70" font-size="5.3" font-weight="bold" text-anchor="end" fill="#111">−4</text>
<line x1="24.0" x2="386.6" y1="383.27" y2="383.27" stroke="#e9e9e9" stroke-width="1.5"/>
<text x="18.6" y="385.02" font-size="5.3" font-weight="bold" text-anchor="end" fill="#111">−3</text>
<line x1="24.0" x2="386.6" y1="369.60" y2="369.60" stroke="#e9e9e9" stroke-width="1.5"/>
<text x="18.6" y="371.35" font-size="5.3" font-weight="bold" text-anchor="end" fill="#111">−2</text>
<line x1="24.0" x2="386.6" y1="355.92" y2="355.92" stroke="#e9e9e9" stroke-width="1.5"/>
<text x="18.6" y="357.67" font-size="5.3" font-weight="bold" text-anchor="end" fill="#111">−1</text>
<line x1="24.0" x2="386.6" y1="342.25" y2="342.25" stroke="#e9e9e9" stroke-width="1.5"/>
<text x="18.6" y="344.00" font-size="5.3" font-weight="bold" text-anchor="end" fill="#111">0</text>
<line x1="24.0" x2="386.6" y1="328.57" y2="328.57" stroke="#e9e9e9" stroke-width="1.5"/>
<text x="18.6" y="330.32" font-size="5.3" font-weight="bold" text-anchor="end" fill="#111">1</text>
<line x1="24.0" x2="386.6" y1="314.90" y2="314.90" stroke="#e9e9e9" stroke-width="1.5"/>
<text x="18.6" y="316.65" font-size="5.3" font-weight="bold" text-anchor="end" fill="#111">2</text>
<line x1="24.0" x2="386.6" y1="301.22" y2="301.22" stroke="#e9e9e9" stroke-width="1.5"/>
<text x="18.6" y="302.97" font-size="5.3" font-weight="bold" text-anchor="end" fill="#111">3</text>
<line x1="24.0" x2="386.6" y1="287.55" y2="287.55" stroke="#e9e9e9" stroke-width="1.5"/>
<text x="18.6" y="289.30" font-size="5.3" font-weight="bold" text-anchor="end" fill="#111">4</text>
<line x1="78.10" x2="78.10" y1="287.40" y2="396.80" stroke="#e9e9e9" stroke-width="1.5"/>
<text x="78.10" y="406.40" font-size="5.4" font-weight="bold" text-anchor="middle" fill="#222">1919</text>
<line x1="153.70" x2="153.70" y1="287.40" y2="396.80" stroke="#e9e9e9" stroke-width="1.5"/>
<text x="153.70" y="406.40" font-size="5.4" font-weight="bold" text-anchor="middle" fill="#222">1944</text>
<line x1="229.30" x2="229.30" y1="287.40" y2="396.80" stroke="#e9e9e9" stroke-width="1.5"/>
<text x="229.30" y="406.40" font-size="5.4" font-weight="bold" text-anchor="middle" fill="#222">1969</text>
<line x1="304.90" x2="304.90" y1="287.40" y2="396.80" stroke="#e9e9e9" stroke-width="1.5"/>
<text x="304.90" y="406.40" font-size="5.4" font-weight="bold" text-anchor="middle" fill="#222">1994</text>
<line x1="380.50" x2="380.50" y1="287.40" y2="396.80" stroke="#e9e9e9" stroke-width="1.5"/>
<text x="380.50" y="406.40" font-size="5.4" font-weight="bold" text-anchor="middle" fill="#222">2019</text>
<text transform="translate(9.8,342.60) rotate(-90)" font-size="5.6" font-weight="bold" text-anchor="middle" textLength="13" lengthAdjust="spacingAndGlyphs" fill="#222">SPI12</text>
<line x1="24.0" x2="386.6" y1="355.17" y2="355.17" stroke="#d9cc5c" stroke-width="1.2"/>
<line x1="24.0" x2="386.6" y1="369.45" y2="369.45" stroke="#a48478" stroke-width="1.2"/>
<path d="M26.09,355.05 L26.58,355.05 L26.58,345.24 L27.23,345.24 L27.23,341.15 L28.05,341.15 L28.05,339.51 L28.87,339.51 L28.87,334.61 L29.36,334.61 L29.36,330.52 L30.17,330.52 L30.17,330.52 L30.99,330.52 L30.99,335.43 L31.81,335.43 L31.81,343.60 L32.63,343.60 L32.63,346.05 L33.44,346.05 L33.44,343.60 L34.26,343.60 L34.26,341.97 L35.08,341.97 L35.08,327.25 L35.90,327.25 L35.90,318.26 L36.71,318.26 L36.71,315.81 L37.53,315.81 L37.53,316.63 L38.35,316.63 L38.35,320.71 L39.17,320.71 L39.17,327.25 L39.98,327.25 L39.98,323.98 L40.80,323.98 L40.80,327.25 L41.29,327.25 L41.29,345.24 L41.95,345.24 L41.95,327.25 L42.76,327.25 L42.76,325.62 L43.58,325.62 L43.58,328.89 L44.40,328.89 L44.40,327.25 L44.89,327.25 L44.89,333.79 L45.71,333.79 L45.71,332.16 L46.52,332.16 L46.52,330.52 L47.34,330.52 L47.34,335.43 L47.83,335.43 L47.83,338.70 L48.16,338.70 L48.16,353.41 L48.65,353.41 L48.65,348.51 L49.30,348.51 L49.30,346.87 L50.12,346.87 L50.12,345.24 L50.94,345.24 L50.94,338.70 L51.75,338.70 L51.75,343.60 L52.57,343.60 L52.57,338.70 L53.06,338.70 L53.06,333.79 L53.88,333.79 L53.88,327.25 L54.70,327.25 L54.70,325.62 L55.51,325.62 L55.51,323.98 L56.33,323.98 L56.33,311.72 L56.82,311.72 L56.82,320.71 L57.64,320.71 L57.64,322.35 L58.46,322.35 L58.46,325.62 L59.28,325.62 L59.28,328.89 L60.09,328.89 L60.09,333.79 L60.91,333.79 L60.91,332.16 L61.73,332.16 L61.73,335.43 L62.54,335.43 L62.54,337.06 L63.20,337.06 L63.20,348.51 L64.02,348.51 L64.02,343.60 L64.83,343.60 L64.83,338.70 L65.65,338.70 L65.65,341.97 L66.47,341.97 L66.47,337.06 L67.29,337.06 L67.29,338.70 L68.10,338.70 L68.10,341.97 L68.59,341.97 L68.59,358.32 L69.41,358.32 L69.41,338.70 L70.23,338.70 L70.23,335.43 L71.05,335.43 L71.05,332.16 L71.86,332.16 L71.86,322.35 L72.68,322.35 L72.68,327.25 L73.50,327.25 L73.50,330.52 L74.32,330.52 L74.32,330.52 L75.13,330.52 L75.13,338.70 L75.95,338.70 L75.95,328.89 L76.77,328.89 L76.77,325.62 L77.59,325.62 L77.59,323.98 L78.40,323.98 L78.40,327.25 L79.22,327.25 L79.22,330.52 L80.04,330.52 L80.04,335.43 L80.86,335.43 L80.86,325.62 L81.63,325.62 L81.63,317.44 L82.45,317.44 L82.45,322.35 L82.94,322.35 L82.94,333.79 L83.60,333.79 L83.60,337.06 L84.41,337.06 L84.41,335.43 L85.23,335.43 L85.23,333.79 L86.05,333.79 L86.05,338.70 L86.87,338.70 L86.87,343.60 L87.68,343.60 L87.68,335.43 L88.50,335.43 L88.50,338.70 L89.32,338.70 L89.32,337.06 L90.14,337.06 L90.14,345.24 L90.95,345.24 L90.95,348.51 L91.77,348.51 L91.77,343.60 L92.59,343.60 L92.59,345.24 L93.41,345.24 L93.41,338.70 L94.22,338.70 L94.22,335.43 L95.04,335.43 L95.04,337.06 L95.86,337.06 L95.86,345.24 L96.35,345.24 L96.35,364.86 L97.17,364.86 L97.17,359.95 L97.98,359.95 L97.98,355.05 L98.31,355.05 L98.31,341.97 L98.80,341.97 L98.80,335.43 L99.62,335.43 L99.62,333.79 L100.44,333.79 L100.44,337.06 L101.25,337.06 L101.25,343.60 L102.07,343.60 L102.07,333.79 L102.89,333.79 L102.89,337.06 L103.71,337.06 L103.71,335.43 L104.52,335.43 L104.52,338.70 L105.34,338.70 L105.34,346.87 L106.16,346.87 L106.16,348.51 L106.98,348.51 L106.98,351.78 L107.79,351.78 L107.79,345.24 L108.61,345.24 L108.61,341.97 L109.43,341.97 L109.43,337.06 L110.25,337.06 L110.25,338.70 L111.06,338.70 L111.06,343.60 L111.88,343.60 L111.88,346.87 L112.70,346.87 L112.70,350.14 L113.51,350.14 L113.51,351.78 L114.33,351.78 L114.33,346.87 L115.15,346.87 L115.15,338.70 L115.97,338.70 L115.97,340.33 L116.78,340.33 L116.78,343.60 L117.60,343.60 L117.60,345.24 L118.42,345.24 L118.42,346.87 L119.24,346.87 L119.24,355.05 L120.05,355.05 L120.05,359.95 L120.54,359.95 L120.54,373.03 L121.20,373.03 L121.20,364.86 L122.02,364.86 L122.02,366.49 L122.83,366.49 L122.83,356.68 L123.32,356.68 L123.32,346.87 L124.14,346.87 L124.14,341.97 L124.96,341.97 L124.96,343.60 L125.78,343.60 L125.78,338.70 L126.59,338.70 L126.59,335.43 L127.41,335.43 L127.41,337.06 L128.23,337.06 L128.23,348.51 L129.05,348.51 L129.05,353.41 L129.86,353.41 L129.86,350.14 L130.68,350.14 L130.68,345.24 L131.17,345.24 L131.17,366.49 L131.83,366.49 L131.83,346.87 L132.64,346.87 L132.64,330.52 L133.46,330.52 L133.46,328.89 L134.28,328.89 L134.28,327.25 L135.10,327.25 L135.10,330.52 L135.91,330.52 L135.91,335.43 L136.73,335.43 L136.73,328.89 L137.55,328.89 L137.55,322.35 L138.37,322.35 L138.37,330.52 L138.82,330.52 L138.82,330.52 L139.63,330.52 L139.63,328.89 L140.45,328.89 L140.45,322.35 L141.27,322.35 L141.27,315.81 L141.76,315.81 L141.76,330.52 L142.58,330.52 L142.58,332.16 L143.40,332.16 L143.40,335.43 L144.21,335.43 L144.21,338.70 L144.87,338.70 L144.87,350.14 L145.68,350.14 L145.68,348.51 L146.17,348.51 L146.17,351.78 L146.66,351.78 L146.66,358.32 L147.32,358.32 L147.32,338.70 L148.14,338.70 L148.14,325.62 L148.95,325.62 L148.95,323.98 L149.77,323.98 L149.77,319.08 L150.26,319.08 L150.26,330.52 L151.08,330.52 L151.08,337.06 L151.90,337.06 L151.90,333.79 L152.71,333.79 L152.71,325.62 L153.04,325.62 L153.04,320.71 L153.69,320.71 L153.69,338.70 L154.35,338.70 L154.35,341.97 L155.17,341.97 L155.17,343.60 L155.98,343.60 L155.98,317.44 L156.80,317.44 L156.80,314.17 L157.62,314.17 L157.62,313.36 L158.44,313.36 L158.44,315.81 L159.25,315.81 L159.25,341.97 L160.07,341.97 L160.07,345.24 L160.89,345.24 L160.89,343.60 L161.71,343.60 L161.71,345.24 L162.52,345.24 L162.52,355.05 L163.01,355.05 L163.01,371.40 L163.67,371.40 L163.67,366.49 L164.49,366.49 L164.49,358.32 L164.98,358.32 L164.98,346.87 L165.79,346.87 L165.79,338.70 L166.61,338.70 L166.61,335.43 L167.43,335.43 L167.43,333.79 L168.25,333.79 L168.25,325.62 L169.06,325.62 L169.06,322.35 L169.88,322.35 L169.88,320.71 L170.70,320.71 L170.70,319.08 L171.51,319.08 L171.51,317.44 L172.33,317.44 L172.33,322.35 L173.15,322.35 L173.15,333.79 L173.97,333.79 L173.97,335.43 L174.78,335.43 L174.78,345.24 L175.60,345.24 L175.60,364.86 L176.42,364.86 L176.42,368.13 L177.24,368.13 L177.24,355.05 L177.73,355.05 L177.73,338.70 L178.38,338.70 L178.38,328.89 L179.20,328.89 L179.20,327.25 L180.02,327.25 L180.02,328.07 L180.83,328.07 L180.83,359.95 L181.32,359.95 L181.32,341.97 L182.14,341.97 L182.14,338.70 L182.96,338.70 L182.96,330.52 L183.78,330.52 L183.78,320.71 L184.59,320.71 L184.59,322.35 L185.41,322.35 L185.41,338.70 L186.23,338.70 L186.23,340.33 L187.05,340.33 L187.05,343.60 L187.86,343.60 L187.86,355.05 L188.68,355.05 L188.68,356.68 L189.50,356.68 L189.50,353.41 L190.32,353.41 L190.32,338.70 L191.13,338.70 L191.13,330.52 L191.95,330.52 L191.95,328.89 L192.77,328.89 L192.77,345.24 L193.59,345.24 L193.59,343.60 L194.40,343.60 L194.40,330.52 L195.22,330.52 L195.22,325.62 L196.04,325.62 L196.04,322.35 L196.86,322.35 L196.86,346.87 L197.31,346.87 L197.31,353.41 L197.96,353.41 L197.96,355.05 L198.45,355.05 L198.45,369.76 L198.94,369.76 L198.94,382.84 L199.60,382.84 L199.60,392.65 L200.09,392.65 L200.09,371.40 L200.90,371.40 L200.90,355.05 L201.72,355.05 L201.72,353.41 L202.21,353.41 L202.21,384.47 L202.87,384.47 L202.87,382.84 L203.68,382.84 L203.68,374.66 L204.50,374.66 L204.50,358.32 L205.32,358.32 L205.32,343.60 L205.81,343.60 L205.81,340.33 L206.63,340.33 L206.63,345.24 L207.44,345.24 L207.44,332.16 L207.77,332.16 L207.77,329.71 L208.26,329.71 L208.26,346.87 L209.08,346.87 L209.08,351.78 L209.90,351.78 L209.90,350.14 L210.71,350.14 L210.71,361.59 L211.20,361.59 L211.20,382.84 L211.86,382.84 L211.86,374.66 L212.68,374.66 L212.68,371.40 L213.17,371.40 L213.17,355.05 L213.66,355.05 L213.66,338.70 L214.31,338.70 L214.31,333.79 L214.96,333.79 L214.96,327.25 L215.95,327.25 L215.95,323.98 L216.76,323.98 L216.76,322.35 L217.25,322.35 L217.25,332.16 L218.07,332.16 L218.07,325.62 L218.89,325.62 L218.89,327.25 L219.71,327.25 L219.71,338.70 L220.20,338.70 L220.20,358.32 L221.01,358.32 L221.01,356.68 L221.83,356.68 L221.83,355.05 L222.16,355.05 L222.16,338.70 L222.98,338.70 L222.98,325.62 L223.79,325.62 L223.79,322.35 L224.61,322.35 L224.61,319.08 L225.43,319.08 L225.43,315.81 L226.25,315.81 L226.25,327.25 L227.06,327.25 L227.06,338.70 L227.88,338.70 L227.88,343.60 L228.70,343.60 L228.70,341.97 L229.19,341.97 L229.19,353.41 L229.68,353.41 L229.68,338.70 L230.33,338.70 L230.33,337.06 L231.15,337.06 L231.15,338.70 L231.97,338.70 L231.97,346.87 L232.78,346.87 L232.78,350.14 L233.60,350.14 L233.60,353.41 L234.42,353.41 L234.42,351.78 L235.24,351.78 L235.24,359.95 L235.73,359.95 L235.73,350.14 L236.38,350.14 L236.38,343.60 L237.20,343.60 L237.20,338.70 L238.02,338.70 L238.02,328.89 L238.83,328.89 L238.83,323.98 L239.65,323.98 L239.65,325.62 L240.47,325.62 L240.47,332.16 L241.29,332.16 L241.29,346.87 L242.10,346.87 L242.10,353.41 L242.92,353.41 L242.92,355.05 L243.74,355.05 L243.74,353.41 L244.56,353.41 L244.56,330.52 L245.05,330.52 L245.05,315.81 L245.86,315.81 L245.86,313.36 L246.68,313.36 L246.68,315.81 L247.50,315.81 L247.50,328.89 L247.99,328.89 L247.99,350.14 L248.64,350.14 L248.64,345.24 L249.46,345.24 L249.46,345.24 L250.28,345.24 L250.28,346.87 L250.77,346.87 L250.77,358.32 L251.59,358.32 L251.59,358.32 L252.40,358.32 L252.40,351.78 L253.22,351.78 L253.22,353.41 L254.04,353.41 L254.04,346.87 L254.82,346.87 L254.82,348.51 L255.63,348.51 L255.63,345.24 L256.45,345.24 L256.45,335.43 L257.27,335.43 L257.27,343.60 L258.09,343.60 L258.09,351.78 L258.90,351.78 L258.90,356.68 L259.72,356.68 L259.72,359.95 L260.54,359.95 L260.54,360.77 L261.36,360.77 L261.36,358.32 L262.17,358.32 L262.17,330.52 L262.99,330.52 L262.99,312.54 L263.81,312.54 L263.81,310.90 L264.63,310.90 L264.63,312.54 L265.44,312.54 L265.44,322.35 L266.26,322.35 L266.26,332.16 L267.08,332.16 L267.08,330.52 L267.90,330.52 L267.90,332.16 L268.39,332.16 L268.39,358.32 L269.04,358.32 L269.04,350.14 L269.86,350.14 L269.86,346.87 L270.35,346.87 L270.35,338.70 L271.17,338.70 L271.17,319.08 L271.98,319.08 L271.98,316.63 L272.80,316.63 L272.80,316.63 L273.62,316.63 L273.62,317.44 L274.44,317.44 L274.44,325.62 L275.25,325.62 L275.25,343.60 L276.07,343.60 L276.07,351.78 L276.89,351.78 L276.89,355.05 L277.71,355.05 L277.71,335.43 L278.52,335.43 L278.52,338.70 L279.34,338.70 L279.34,345.24 L280.16,345.24 L280.16,338.70 L280.65,338.70 L280.65,355.05 L281.47,355.05 L281.47,363.22 L282.28,363.22 L282.28,364.86 L282.77,364.86 L282.77,346.87 L283.43,346.87 L283.43,338.70 L284.25,338.70 L284.25,337.06 L285.06,337.06 L285.06,345.24 L285.88,345.24 L285.88,363.22 L286.37,363.22 L286.37,337.06 L287.02,337.06 L287.02,327.25 L287.84,327.25 L287.84,323.98 L288.66,323.98 L288.66,322.35 L289.48,322.35 L289.48,320.71 L289.97,320.71 L289.97,327.25 L290.78,327.25 L290.78,337.06 L291.60,337.06 L291.60,338.70 L292.42,338.70 L292.42,353.41 L292.91,353.41 L292.91,345.24 L293.56,345.24 L293.56,343.60 L294.38,343.60 L294.38,346.87 L295.20,346.87 L295.20,345.24 L296.02,345.24 L296.02,348.51 L296.83,348.51 L296.83,346.87 L297.65,346.87 L297.65,345.24 L298.47,345.24 L298.47,315.81 L299.29,315.81 L299.29,312.54 L300.10,312.54 L300.10,317.44 L300.92,317.44 L300.92,318.26 L301.74,318.26 L301.74,322.35 L302.56,322.35 L302.56,340.33 L303.37,340.33 L303.37,341.97 L304.19,341.97 L304.19,345.24 L305.01,345.24 L305.01,341.97 L305.66,341.97 L305.66,338.70 L306.32,338.70 L306.32,337.06 L307.13,337.06 L307.13,330.52 L307.46,330.52 L307.46,320.71 L308.28,320.71 L308.28,337.06 L309.10,337.06 L309.10,335.43 L309.91,335.43 L309.91,338.70 L310.40,338.70 L310.40,364.86 L311.22,364.86 L311.22,345.24 L312.04,345.24 L312.04,343.60 L312.82,343.60 L312.82,340.33 L313.63,340.33 L313.63,350.14 L314.45,350.14 L314.45,341.97 L315.27,341.97 L315.27,340.33 L316.09,340.33 L316.09,335.43 L316.90,335.43 L316.90,337.06 L317.72,337.06 L317.72,338.70 L318.54,338.70 L318.54,340.33 L319.36,340.33 L319.36,345.24 L320.17,345.24 L320.17,351.78 L320.66,351.78 L320.66,371.40 L321.32,371.40 L321.32,369.76 L322.14,369.76 L322.14,371.40 L322.63,371.40 L322.63,361.59 L323.44,361.59 L323.44,355.05 L324.26,355.05 L324.26,359.95 L325.08,359.95 L325.08,356.68 L325.90,356.68 L325.90,351.78 L326.71,351.78 L326.71,353.41 L327.53,353.41 L327.53,350.14 L328.35,350.14 L328.35,346.87 L329.17,346.87 L329.17,340.33 L329.98,340.33 L329.98,340.33 L330.80,340.33 L330.80,337.06 L331.62,337.06 L331.62,338.70 L332.44,338.70 L332.44,327.25 L333.25,327.25 L333.25,328.89 L334.07,328.89 L334.07,323.98 L334.89,323.98 L334.89,325.62 L335.71,325.62 L335.71,332.16 L336.52,332.16 L336.52,340.33 L337.34,340.33 L337.34,341.97 L338.16,341.97 L338.16,346.87 L338.65,346.87 L338.65,356.68 L339.47,356.68 L339.47,351.78 L340.28,351.78 L340.28,355.05 L340.94,355.05 L340.94,348.51 L341.75,348.51 L341.75,355.05 L342.57,355.05 L342.57,348.51 L343.39,348.51 L343.39,350.14 L344.21,350.14 L344.21,353.41 L345.02,353.41 L345.02,351.78 L345.84,351.78 L345.84,348.51 L346.66,348.51 L346.66,345.24 L347.48,345.24 L347.48,350.14 L348.29,350.14 L348.29,355.05 L349.11,355.05 L349.11,358.32 L349.93,358.32 L349.93,361.59 L350.42,361.59 L350.42,392.65 L350.91,392.65 L350.91,368.13 L351.56,368.13 L351.56,364.86 L352.38,364.86 L352.38,359.95 L353.20,359.95 L353.20,350.14 L353.69,350.14 L353.69,343.60 L354.51,343.60 L354.51,341.97 L355.32,341.97 L355.32,346.87 L356.14,346.87 L356.14,350.14 L356.96,350.14 L356.96,343.60 L357.78,343.60 L357.78,346.87 L358.59,346.87 L358.59,340.33 L359.41,340.33 L359.41,345.24 L360.23,345.24 L360.23,343.60 L361.05,343.60 L361.05,346.87 L361.86,346.87 L361.86,338.70 L362.35,338.70 L362.35,332.16 L363.01,332.16 L363.01,343.60 L363.83,343.60 L363.83,340.33 L364.64,340.33 L364.64,345.24 L365.46,345.24 L365.46,356.68 L365.95,356.68 L365.95,338.70 L366.77,338.70 L366.77,343.60 L367.59,343.60 L367.59,343.60 L368.40,343.60 L368.40,338.70 L369.22,338.70 L369.22,337.06 L370.04,337.06 L370.04,341.97 L372.70,341.97 L372.70,348.51 L373.51,348.51 L373.51,350.14 L374.33,350.14 L374.33,355.05 L374.82,355.05 L374.82,361.59 L375.48,361.59 L375.48,351.78 L376.29,351.78 L376.29,359.95 L376.95,359.95 L376.95,377.93 L377.60,377.93 L377.60,358.32 L378.42,358.32 L378.42,355.05 L379.24,355.05 L379.24,353.41 L380.05,353.41 L380.05,345.24 L380.87,345.24 L380.87,333.79 L381.69,333.79 L381.69,335.43 L382.51,335.43 L382.51,332.16 L383.32,332.16 L383.32,337.06 L384.14,337.06 L384.14,338.70 L384.96,338.70 L384.96,333.79 L385.78,333.79 L385.78,327.25 L386.27,327.25 L386.27,328.89 L386.59,328.89 L386.59,338.70" fill="none" stroke="#5050b8" stroke-width="0.9" stroke-linejoin="round"/>
<line x1="29.1" x2="386.0" y1="335.26" y2="348.25" stroke="#2e7f3a" stroke-width="1" stroke-dasharray="2.2,1"/>
<text x="232.3" y="298.00" font-size="4.6" font-style="italic" textLength="94" lengthAdjust="spacingAndGlyphs" fill="#262626">y = −2.236 × 10<tspan dy="-2" font-size="3.2">−5</tspan><tspan dy="2"> × x + −6.553 × 10</tspan><tspan dy="-2" font-size="3.2">−2</tspan></text>
</g>
<g>
<rect x="24.0" y="424.00" width="362.60" height="109.40" fill="#dcdcdc"/>
<line x1="24.0" x2="386.6" y1="533.55" y2="533.55" stroke="#e9e9e9" stroke-width="1.5"/>
<text x="18.6" y="535.30" font-size="5.3" font-weight="bold" text-anchor="end" fill="#111">−4</text>
<line x1="24.0" x2="386.6" y1="519.88" y2="519.88" stroke="#e9e9e9" stroke-width="1.5"/>
<text x="18.6" y="521.62" font-size="5.3" font-weight="bold" text-anchor="end" fill="#111">−3</text>
<line x1="24.0" x2="386.6" y1="506.20" y2="506.20" stroke="#e9e9e9" stroke-width="1.5"/>
<text x="18.6" y="507.95" font-size="5.3" font-weight="bold" text-anchor="end" fill="#111">−2</text>
<line x1="24.0" x2="386.6" y1="492.52" y2="492.52" stroke="#e9e9e9" stroke-width="1.5"/>
<text x="18.6" y="494.27" font-size="5.3" font-weight="bold" text-anchor="end" fill="#111">−1</text>
<line x1="24.0" x2="386.6" y1="478.85" y2="478.85" stroke="#e9e9e9" stroke-width="1.5"/>
<text x="18.6" y="480.60" font-size="5.3" font-weight="bold" text-anchor="end" fill="#111">0</text>
<line x1="24.0" x2="386.6" y1="465.17" y2="465.17" stroke="#e9e9e9" stroke-width="1.5"/>
<text x="18.6" y="466.92" font-size="5.3" font-weight="bold" text-anchor="end" fill="#111">1</text>
<line x1="24.0" x2="386.6" y1="451.50" y2="451.50" stroke="#e9e9e9" stroke-width="1.5"/>
<text x="18.6" y="453.25" font-size="5.3" font-weight="bold" text-anchor="end" fill="#111">2</text>
<line x1="24.0" x2="386.6" y1="437.82" y2="437.82" stroke="#e9e9e9" stroke-width="1.5"/>
<text x="18.6" y="439.57" font-size="5.3" font-weight="bold" text-anchor="end" fill="#111">3</text>
<line x1="24.0" x2="386.6" y1="424.15" y2="424.15" stroke="#e9e9e9" stroke-width="1.5"/>
<text x="18.6" y="425.90" font-size="5.3" font-weight="bold" text-anchor="end" fill="#111">4</text>
<line x1="78.10" x2="78.10" y1="424.00" y2="533.40" stroke="#e9e9e9" stroke-width="1.5"/>
<text x="78.10" y="543.00" font-size="5.4" font-weight="bold" text-anchor="middle" fill="#222">1919</text>
<line x1="153.70" x2="153.70" y1="424.00" y2="533.40" stroke="#e9e9e9" stroke-width="1.5"/>
<text x="153.70" y="543.00" font-size="5.4" font-weight="bold" text-anchor="middle" fill="#222">1944</text>
<line x1="229.30" x2="229.30" y1="424.00" y2="533.40" stroke="#e9e9e9" stroke-width="1.5"/>
<text x="229.30" y="543.00" font-size="5.4" font-weight="bold" text-anchor="middle" fill="#222">1969</text>
<line x1="304.90" x2="304.90" y1="424.00" y2="533.40" stroke="#e9e9e9" stroke-width="1.5"/>
<text x="304.90" y="543.00" font-size="5.4" font-weight="bold" text-anchor="middle" fill="#222">1994</text>
<line x1="380.50" x2="380.50" y1="424.00" y2="533.40" stroke="#e9e9e9" stroke-width="1.5"/>
<text x="380.50" y="543.00" font-size="5.4" font-weight="bold" text-anchor="middle" fill="#222">2019</text>
<text transform="translate(9.8,479.20) rotate(-90)" font-size="5.6" font-weight="bold" text-anchor="middle" textLength="13" lengthAdjust="spacingAndGlyphs" fill="#222">SPI24</text>
<line x1="24.0" x2="386.6" y1="491.77" y2="491.77" stroke="#d9cc5c" stroke-width="1.2"/>
<line x1="24.0" x2="386.6" y1="506.05" y2="506.05" stroke="#a48478" stroke-width="1.2"/>
<path d="M29.36,483.32 L30.17,483.32 L30.17,471.88 L30.99,471.88 L30.99,472.70 L31.81,472.70 L31.81,477.60 L32.63,477.60 L32.63,475.15 L33.44,475.15 L33.44,473.51 L34.26,473.51 L34.26,470.25 L35.08,470.25 L35.08,469.43 L36.39,469.43 L36.39,464.52 L37.53,464.52 L37.53,461.25 L38.35,461.25 L38.35,453.08 L39.17,453.08 L39.17,452.26 L40.31,452.26 L40.31,452.75 L41.29,452.75 L41.29,457.98 L41.62,457.98 L41.62,467.79 L42.44,467.79 L42.44,459.62 L43.25,459.62 L43.25,461.25 L44.07,461.25 L44.07,470.25 L44.89,470.25 L44.89,461.25 L45.71,461.25 L45.71,462.89 L46.52,462.89 L46.52,464.52 L47.34,464.52 L47.34,471.06 L48.16,471.06 L48.16,475.97 L48.98,475.97 L48.98,480.05 L49.79,480.05 L49.79,477.60 L50.61,477.60 L50.61,482.51 L51.43,482.51 L51.43,484.14 L52.25,484.14 L52.25,484.96 L53.06,484.96 L53.06,488.23 L53.88,488.23 L53.88,470.25 L54.70,470.25 L54.70,467.79 L55.51,467.79 L55.51,469.43 L56.33,469.43 L56.33,457.98 L57.15,457.98 L57.15,455.53 L57.97,455.53 L57.97,456.35 L58.78,456.35 L58.78,451.44 L59.60,451.44 L59.60,456.35 L60.42,456.35 L60.42,457.98 L61.24,457.98 L61.24,461.25 L62.05,461.25 L62.05,464.52 L62.87,464.52 L62.87,471.06 L63.69,471.06 L63.69,475.15 L64.51,475.15 L64.51,477.60 L65.32,477.60 L65.32,470.25 L66.14,470.25 L66.14,480.87 L66.96,480.87 L66.96,482.51 L67.78,482.51 L67.78,483.32 L68.59,483.32 L68.59,489.05 L69.41,489.05 L69.41,479.24 L70.23,479.24 L70.23,472.70 L71.05,472.70 L71.05,471.06 L71.86,471.06 L71.86,464.52 L72.68,464.52 L72.68,462.89 L73.50,462.89 L73.50,466.16 L74.32,466.16 L74.32,463.71 L75.95,463.71 L75.95,460.44 L76.77,460.44 L76.77,462.89 L77.59,462.89 L77.59,464.52 L78.40,464.52 L78.40,461.25 L79.22,461.25 L79.22,461.25 L80.04,461.25 L80.04,457.98 L80.86,457.98 L80.86,456.35 L82.45,456.35 L82.45,457.17 L83.27,457.17 L83.27,458.80 L84.90,458.80 L84.90,460.44 L86.54,460.44 L86.54,462.07 L87.36,462.07 L87.36,464.52 L87.68,464.52 L87.68,471.88 L88.99,471.88 L88.99,472.70 L90.14,472.70 L90.14,473.51 L90.63,473.51 L90.63,476.78 L91.44,476.78 L91.44,477.60 L92.26,477.60 L92.26,479.24 L93.08,479.24 L93.08,480.87 L93.90,480.87 L93.90,484.96 L94.71,484.96 L94.71,479.24 L95.53,479.24 L95.53,481.69 L96.35,481.69 L96.35,484.14 L97.17,484.14 L97.17,489.05 L97.98,489.05 L97.98,484.14 L98.80,484.14 L98.80,487.41 L99.62,487.41 L99.62,486.59 L100.44,486.59 L100.44,485.78 L101.25,485.78 L101.25,492.32 L102.07,492.32 L102.07,480.87 L102.56,480.87 L102.56,471.88 L103.71,471.88 L103.71,472.70 L104.52,472.70 L104.52,474.33 L105.34,474.33 L105.34,479.24 L106.16,479.24 L106.16,480.87 L106.98,480.87 L106.98,472.70 L107.79,472.70 L107.79,474.33 L108.61,474.33 L108.61,479.24 L109.43,479.24 L109.43,485.78 L110.25,485.78 L110.25,486.59 L111.06,486.59 L111.06,472.70 L111.88,472.70 L111.88,477.60 L112.70,477.60 L112.70,480.87 L113.51,480.87 L113.51,482.51 L114.33,482.51 L114.33,479.24 L115.15,479.24 L115.15,481.69 L115.97,481.69 L115.97,480.05 L116.78,480.05 L116.78,480.87 L117.60,480.87 L117.60,479.24 L118.42,479.24 L118.42,483.32 L119.24,483.32 L119.24,485.78 L120.05,485.78 L120.05,492.32 L120.87,492.32 L120.87,495.59 L121.69,495.59 L121.69,496.40 L122.51,496.40 L122.51,497.22 L123.32,497.22 L123.32,508.66 L123.81,508.66 L123.81,495.59 L124.96,495.59 L124.96,496.40 L125.78,496.40 L125.78,493.95 L126.59,493.95 L126.59,489.05 L127.41,489.05 L127.41,475.15 L128.23,475.15 L128.23,475.97 L129.05,475.97 L129.05,480.87 L129.86,480.87 L129.86,489.05 L130.68,489.05 L130.68,488.23 L131.50,488.23 L131.50,487.41 L132.32,487.41 L132.32,482.51 L133.13,482.51 L133.13,481.69 L133.95,481.69 L133.95,475.97 L134.77,475.97 L134.77,474.33 L135.59,474.33 L135.59,466.16 L136.40,466.16 L136.40,461.25 L137.22,461.25 L137.22,461.25 L138.04,461.25 L138.04,462.89 L138.82,462.89 L138.82,462.89 L139.63,462.89 L139.63,456.35 L140.45,456.35 L140.45,457.98 L141.27,457.98 L141.27,464.52 L142.09,464.52 L142.09,466.16 L142.90,466.16 L142.90,465.34 L143.72,465.34 L143.72,467.79 L144.54,467.79 L144.54,470.25 L145.36,470.25 L145.36,471.88 L146.17,471.88 L146.17,477.60 L146.99,477.60 L146.99,489.05 L147.48,489.05 L147.48,479.24 L148.14,479.24 L148.14,471.06 L148.63,471.06 L148.63,471.88 L149.44,471.88 L149.44,474.33 L150.26,474.33 L150.26,470.25 L151.08,470.25 L151.08,459.62 L151.90,459.62 L151.90,457.98 L152.71,457.98 L152.71,457.17 L153.53,457.17 L153.53,464.52 L154.35,464.52 L154.35,470.25 L155.17,470.25 L155.17,468.61 L155.98,468.61 L155.98,456.35 L156.47,456.35 L156.47,449.81 L157.13,449.81 L157.13,457.98 L157.95,457.98 L157.95,454.71 L158.60,454.71 L158.60,461.25 L159.25,461.25 L159.25,457.98 L160.07,457.98 L160.07,461.25 L160.89,461.25 L160.89,462.07 L161.71,462.07 L161.71,472.70 L162.20,472.70 L162.20,495.59 L162.85,495.59 L162.85,498.04 L163.34,498.04 L163.34,493.95 L164.16,493.95 L164.16,498.86 L164.98,498.86 L164.98,500.49 L165.47,500.49 L165.47,489.05 L166.12,489.05 L166.12,489.05 L167.10,489.05 L167.10,487.41 L167.75,487.41 L167.75,480.87 L168.25,480.87 L168.25,471.06 L169.06,471.06 L169.06,462.89 L169.88,462.89 L169.88,459.62 L170.70,459.62 L170.70,461.25 L171.51,461.25 L171.51,455.53 L172.33,455.53 L172.33,457.98 L173.15,457.98 L173.15,461.25 L173.97,461.25 L173.97,462.89 L174.78,462.89 L174.78,469.43 L175.28,469.43 L175.28,484.14 L175.93,484.14 L175.93,492.32 L176.42,492.32 L176.42,491.50 L177.24,491.50 L177.24,489.05 L177.73,489.05 L177.73,477.60 L178.38,477.60 L178.38,484.14 L178.87,484.14 L178.87,484.14 L179.69,484.14 L179.69,484.14 L180.51,484.14 L180.51,477.60 L181.32,477.60 L181.32,468.61 L182.14,468.61 L182.14,467.79 L182.96,467.79 L182.96,462.89 L183.45,462.89 L183.45,472.70 L184.10,472.70 L184.10,477.60 L184.92,477.60 L184.92,475.97 L185.74,475.97 L185.74,461.25 L186.56,461.25 L186.56,472.70 L187.05,472.70 L187.05,482.51 L187.86,482.51 L187.86,479.24 L188.68,479.24 L188.68,485.78 L189.50,485.78 L189.50,477.60 L190.32,477.60 L190.32,479.24 L191.13,479.24 L191.13,479.24 L191.95,479.24 L191.95,490.68 L192.77,490.68 L192.77,471.06 L193.59,471.06 L193.59,464.52 L194.40,464.52 L194.40,463.71 L195.22,463.71 L195.22,466.16 L196.04,466.16 L196.04,472.70 L196.82,472.70 L196.82,477.60 L197.63,477.60 L197.63,479.24 L198.45,479.24 L198.45,482.51 L199.27,482.51 L199.27,489.05 L200.09,489.05 L200.09,495.59 L200.90,495.59 L200.90,497.22 L201.72,497.22 L201.72,505.40 L202.21,505.40 L202.21,523.38 L202.87,523.38 L202.87,515.20 L203.36,515.20 L203.36,511.93 L204.17,511.93 L204.17,508.66 L204.99,508.66 L204.99,505.40 L205.81,505.40 L205.81,504.58 L206.63,504.58 L206.63,502.13 L207.44,502.13 L207.44,492.32 L208.26,492.32 L208.26,482.51 L209.08,482.51 L209.08,484.14 L209.90,484.14 L209.90,489.05 L210.71,489.05 L210.71,493.95 L211.53,493.95 L211.53,502.94 L212.35,502.94 L212.35,502.94 L213.17,502.94 L213.17,502.13 L213.98,502.13 L213.98,492.32 L214.80,492.32 L214.80,489.05 L215.62,489.05 L215.62,487.41 L216.44,487.41 L216.44,479.24 L216.93,479.24 L216.93,461.25 L217.58,461.25 L217.58,460.44 L218.40,460.44 L218.40,460.44 L219.22,460.44 L219.22,462.89 L220.03,462.89 L220.03,472.70 L220.52,472.70 L220.52,480.87 L221.34,480.87 L221.34,477.60 L222.16,477.60 L222.16,471.06 L222.98,471.06 L222.98,467.79 L223.79,467.79 L223.79,472.70 L224.61,472.70 L224.61,469.43 L225.43,469.43 L225.43,461.25 L226.25,461.25 L226.25,456.35 L227.06,456.35 L227.06,464.52 L227.88,464.52 L227.88,462.89 L228.70,462.89 L228.70,466.16 L229.51,466.16 L229.51,474.33 L230.33,474.33 L230.33,475.97 L231.15,475.97 L231.15,474.33 L231.97,474.33 L231.97,479.24 L232.78,479.24 L232.78,481.69 L233.60,481.69 L233.60,482.51 L234.42,482.51 L234.42,487.41 L235.24,487.41 L235.24,497.22 L235.73,497.22 L235.73,500.49 L236.38,500.49 L236.38,492.32 L236.87,492.32 L236.87,487.41 L237.69,487.41 L237.69,480.87 L238.51,480.87 L238.51,475.97 L239.32,475.97 L239.32,477.60 L240.14,477.60 L240.14,475.15 L240.96,475.15 L240.96,471.06 L241.78,471.06 L241.78,469.43 L242.59,469.43 L242.59,479.24 L243.41,479.24 L243.41,475.97 L244.23,475.97 L244.23,489.05 L244.72,489.05 L244.72,462.89 L245.86,462.89 L245.86,467.79 L246.68,467.79 L246.68,464.52 L247.50,464.52 L247.50,461.25 L248.32,461.25 L248.32,461.25 L249.13,461.25 L249.13,461.25 L249.95,461.25 L249.95,466.16 L250.77,466.16 L250.77,480.87 L251.59,480.87 L251.59,489.05 L252.40,489.05 L252.40,492.32 L253.22,492.32 L253.22,490.68 L253.71,490.68 L253.71,502.94 L254.00,502.94 L254.00,502.13 L254.82,502.13 L254.82,492.32 L255.63,492.32 L255.63,489.05 L256.45,489.05 L256.45,485.78 L257.27,485.78 L257.27,487.41 L258.09,487.41 L258.09,484.14 L258.90,484.14 L258.90,482.51 L259.72,482.51 L259.72,489.05 L260.54,489.05 L260.54,495.59 L261.36,495.59 L261.36,493.95 L262.17,493.95 L262.17,482.51 L262.50,482.51 L262.50,466.16 L263.48,466.16 L263.48,466.98 L264.14,466.98 L264.14,466.16 L264.95,466.16 L264.95,461.25 L265.44,461.25 L265.44,454.71 L266.26,454.71 L266.26,452.26 L267.08,452.26 L267.08,453.08 L267.90,453.08 L267.90,456.35 L268.71,456.35 L268.71,461.25 L269.04,461.25 L269.04,474.33 L269.69,474.33 L269.69,479.24 L270.35,479.24 L270.35,477.60 L270.84,477.60 L270.84,489.05 L271.49,489.05 L271.49,472.70 L271.98,472.70 L271.98,466.16 L272.80,466.16 L272.80,466.16 L273.62,466.16 L273.62,469.43 L274.44,469.43 L274.44,465.34 L275.25,465.34 L275.25,469.43 L276.07,469.43 L276.07,466.98 L276.89,466.98 L276.89,472.70 L277.71,472.70 L277.71,482.51 L278.52,482.51 L278.52,487.41 L279.34,487.41 L279.34,484.14 L280.16,484.14 L280.16,489.05 L280.98,489.05 L280.98,492.32 L281.79,492.32 L281.79,490.68 L282.61,490.68 L282.61,484.14 L283.43,484.14 L283.43,475.97 L283.92,475.97 L283.92,480.87 L284.57,480.87 L284.57,489.05 L285.06,489.05 L285.06,489.05 L285.88,489.05 L285.88,489.05 L286.70,489.05 L286.70,474.33 L287.51,474.33 L287.51,464.52 L288.33,464.52 L288.33,464.52 L289.15,464.52 L289.15,464.52 L289.97,464.52 L289.97,464.52 L290.78,464.52 L290.78,464.52 L291.60,464.52 L291.60,465.34 L292.42,465.34 L292.42,472.70 L293.24,472.70 L293.24,477.60 L294.05,477.60 L294.05,479.24 L294.87,479.24 L294.87,484.14 L295.69,484.14 L295.69,493.13 L296.51,493.13 L296.51,482.51 L297.32,482.51 L297.32,484.14 L298.14,484.14 L298.14,475.97 L298.96,475.97 L298.96,457.98 L299.78,457.98 L299.78,459.62 L300.59,459.62 L300.59,464.52 L301.41,464.52 L301.41,454.71 L302.23,454.71 L302.23,453.08 L303.05,453.08 L303.05,459.62 L303.86,459.62 L303.86,461.25 L304.68,461.25 L304.68,464.52 L305.50,464.52 L305.50,475.15 L306.32,475.15 L306.32,477.60 L307.13,477.60 L307.13,472.70 L307.95,472.70 L307.95,471.06 L308.77,471.06 L308.77,474.33 L309.59,474.33 L309.59,472.70 L310.40,472.70 L310.40,474.33 L311.22,474.33 L311.22,477.60 L312.04,477.60 L312.04,479.24 L312.86,479.24 L312.86,484.14 L313.63,484.14 L313.63,497.22 L313.96,497.22 L313.96,479.24 L314.78,479.24 L314.78,482.51 L315.60,482.51 L315.60,479.24 L316.41,479.24 L316.41,477.60 L317.23,477.60 L317.23,479.24 L318.05,479.24 L318.05,477.60 L318.87,477.60 L318.87,480.87 L319.36,480.87 L319.36,487.41 L320.17,487.41 L320.17,492.32 L320.99,492.32 L320.99,495.59 L321.81,495.59 L321.81,497.22 L322.63,497.22 L322.63,500.49 L323.44,500.49 L323.44,508.66 L324.26,508.66 L324.26,511.93 L325.08,511.93 L325.08,502.13 L325.90,502.13 L325.90,500.49 L326.71,500.49 L326.71,497.22 L327.53,497.22 L327.53,493.95 L328.35,493.95 L328.35,492.32 L329.17,492.32 L329.17,489.05 L329.98,489.05 L329.98,485.78 L330.80,485.78 L330.80,484.14 L331.62,484.14 L331.62,480.87 L332.11,480.87 L332.11,467.79 L332.76,467.79 L332.76,469.43 L333.58,469.43 L333.58,466.98 L334.40,466.98 L334.40,467.79 L335.22,467.79 L335.22,468.61 L336.03,468.61 L336.03,471.06 L336.85,471.06 L336.85,470.25 L337.67,470.25 L337.67,472.70 L338.49,472.70 L338.49,482.51 L339.30,482.51 L339.30,487.41 L340.12,487.41 L340.12,487.41 L340.94,487.41 L340.94,495.59 L341.75,495.59 L341.75,498.86 L342.57,498.86 L342.57,497.22 L343.39,497.22 L343.39,495.59 L344.21,495.59 L344.21,497.22 L345.02,497.22 L345.02,493.95 L345.84,493.95 L345.84,492.32 L346.66,492.32 L346.66,489.05 L347.48,489.05 L347.48,489.86 L348.29,489.86 L348.29,495.59 L349.11,495.59 L349.11,498.86 L349.93,498.86 L349.93,502.13 L350.75,502.13 L350.75,507.03 L351.56,507.03 L351.56,508.66 L352.38,508.66 L352.38,507.03 L353.20,507.03 L353.20,510.30 L353.69,510.30 L353.69,502.13 L354.51,502.13 L354.51,497.22 L355.32,497.22 L355.32,497.22 L356.14,497.22 L356.14,493.95 L356.96,493.95 L356.96,487.41 L357.78,487.41 L357.78,486.59 L358.59,486.59 L358.59,484.14 L359.41,484.14 L359.41,484.14 L360.23,484.14 L360.23,490.68 L361.05,490.68 L361.05,487.41 L361.86,487.41 L361.86,485.78 L362.35,485.78 L362.35,473.51 L363.01,473.51 L363.01,480.87 L363.83,480.87 L363.83,485.78 L364.64,485.78 L364.64,482.51 L365.13,482.51 L365.13,478.42 L365.95,478.42 L365.95,484.14 L366.77,484.14 L366.77,480.87 L367.59,480.87 L367.59,484.96 L368.40,484.96 L368.40,487.41 L369.22,487.41 L369.22,482.51 L370.04,482.51 L370.04,485.78 L372.70,485.78 L372.70,486.59 L373.51,486.59 L373.51,487.41 L374.33,487.41 L374.33,492.32 L375.15,492.32 L375.15,495.59 L375.97,495.59 L375.97,497.22 L376.78,497.22 L376.78,498.86 L377.28,498.86 L377.28,507.03 L377.93,507.03 L377.93,497.22 L378.75,497.22 L378.75,495.59 L379.56,495.59 L379.56,497.22 L380.05,497.22 L380.05,493.95 L380.87,493.95 L380.87,487.41 L381.69,487.41 L381.69,484.14 L382.51,484.14 L382.51,482.51 L383.32,482.51 L383.32,477.60 L384.14,477.60 L384.14,471.06 L384.96,471.06 L384.96,469.43 L385.78,469.43 L385.78,467.79 L386.43,467.79 L386.43,468.61" fill="none" stroke="#5050b8" stroke-width="0.9" stroke-linejoin="round"/>
<line x1="29.6" x2="386.1" y1="469.81" y2="487.32" stroke="#2e7f3a" stroke-width="1" stroke-dasharray="2.2,1"/>
<text x="232.3" y="434.60" font-size="4.6" font-style="italic" textLength="93" lengthAdjust="spacingAndGlyphs" fill="#262626">y = −3.032 × 10<tspan dy="-2" font-size="3.2">−5</tspan><tspan dy="2"> × x + −8.84 × 10</tspan><tspan dy="-2" font-size="3.2">−2</tspan></text>
</g>
<g font-size="4.6" font-style="italic" fill="#3a3a3a">
<line x1="307.8" x2="311.2" y1="527.5" y2="527.5" stroke="#1d7d50" stroke-width="0.8"/><text x="312.3" y="529.2" textLength="11.8" lengthAdjust="spacingAndGlyphs">Trend</text>
<line x1="329.3" x2="331.6" y1="527.5" y2="527.5" stroke="#e0d878" stroke-width="0.8"/><text x="332.7" y="529.2" textLength="17" lengthAdjust="spacingAndGlyphs">SPI = −1</text>
<line x1="353.4" x2="356" y1="527.5" y2="527.5" stroke="#9c8478" stroke-width="0.8"/><text x="357.3" y="529.2" textLength="17.1" lengthAdjust="spacingAndGlyphs">SPI = −2</text>
</g>
</svg></body></html>
